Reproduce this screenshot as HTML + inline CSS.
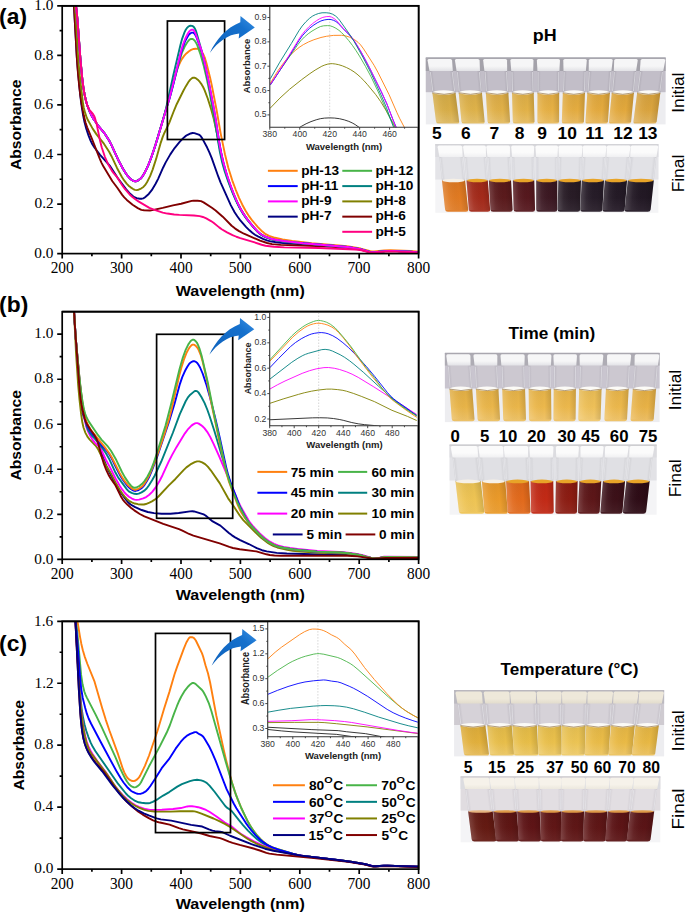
<!DOCTYPE html><html><head><meta charset="utf-8"><style>html,body{margin:0;padding:0;background:#fff;width:685px;height:912px;overflow:hidden}svg{display:block}</style></head><body>
<svg width="685" height="912" viewBox="0 0 685 912">
<defs><linearGradient id="arrg" x1="0" y1="1" x2="1" y2="0"><stop offset="0" stop-color="#0F62BC"/><stop offset="0.7" stop-color="#1570CC"/><stop offset="1" stop-color="#3B92E6"/></linearGradient></defs>
<rect width="685" height="912" fill="#fff"/>
<clipPath id="cpa"><rect x="62.2" y="5.8" width="356.4" height="247.8"/></clipPath>
<g clip-path="url(#cpa)" fill="none" stroke-width="1.9" stroke-linejoin="round" stroke-linecap="round">
<path stroke="#000080" d="M72 -4.11 L73.19 0.23 L74.08 7.94 L76.9 58.1 L77.94 71.12 L80.17 94.57 L81.36 104.36 L82.99 114.7 L84.48 122.11 L86.26 128.79 L88.48 135.37 L90.56 140.64 L92.35 144.22 L94.57 147.76 L100.07 154.82 L110.17 166.15 L117.89 178.23 L126.2 189.42 L129.32 192.95 L133.33 196.47 L134.97 197.5 L136.75 198.16 L139.72 198.7 L141.94 198.71 L143.28 198.32 L144.77 197.46 L148.78 193.95 L151.75 190.14 L155.61 183.73 L158.13 178.85 L163.18 167.47 L165.7 162.36 L170.31 154.36 L174.61 148.05 L179.66 141.96 L183.23 138.16 L185.45 136.17 L187.68 134.79 L190.65 133.48 L192.58 133.03 L194.37 133.11 L198.82 134.63 L199.71 135.15 L200.6 135.96 L202.09 138.15 L207.14 147.54 L209.36 152.31 L211.74 158.18 L218.42 176.95 L220.65 182.59 L230.75 205.13 L234.61 212.19 L237.28 216.31 L240.1 220.18 L246.19 227.1 L249.46 230.33 L252.28 232.77 L254.95 234.7 L257.92 236.41 L262.97 238.86 L267.58 240.57 L271.59 241.56 L278.27 242.66 L288.07 243.64 L302.62 244.18 L314.8 244.98 L332.92 245.77 L344.2 246.64 L350.74 247.47 L359.5 249.05 L362.62 249.77 L369.74 251.85 L371.97 252.27 L374.5 252.25 L385.34 251.09 L390.39 250.88 L410.43 251.66 L418.6 252.36"/>
<path stroke="#800000" d="M72 -4.11 L73.19 0.23 L74.08 7.93 L76.9 58.62 L77.94 72.77 L79.13 85.41 L80.47 96.16 L82.1 106.62 L83.88 115.85 L85.51 122.47 L87.15 127.29 L91.75 138.41 L99.92 159.1 L101.55 162.84 L103.19 165.95 L112.39 181.26 L117.29 187.76 L122.19 194.87 L124.27 197.35 L126.8 199.93 L132.59 204.79 L137.79 208.1 L141.35 209.84 L144.02 210.3 L149.96 210.44 L152.34 210.11 L162.73 207.83 L172.98 205.33 L181.15 203.78 L191.69 200.87 L193.47 200.71 L197.63 200.75 L201.05 201.09 L203.57 202.33 L211.89 207.77 L215.6 210.49 L222.73 216.68 L231.64 225.78 L235.2 228.59 L239.06 231.16 L243.96 233.74 L260 240.65 L267.13 243 L272.03 244.16 L280.64 244.85 L316.43 246.02 L345.69 247.57 L351.48 248.21 L358.46 249.33 L362.02 250.11 L369 252.03 L372.27 252.55 L374.5 252.5 L384.89 251.37 L390.24 251.13 L410.43 251.91 L418.6 252.61"/>
<path stroke="#808000" d="M72.59 -4.11 L73.49 -1.58 L74.08 0.95 L75.27 10.39 L76.16 22.85 L78.09 56.59 L79.43 72.51 L82.84 102.3 L83.73 107.51 L85.07 112.67 L86.41 116.64 L87.74 119.81 L92.64 128.65 L96.5 134.39 L104.08 143.93 L109.27 151.98 L111.5 156.21 L117 167.97 L121.75 176.8 L123.98 180.16 L126.65 183.62 L128.58 185.67 L130.66 187.36 L133.18 189.06 L134.97 189.85 L136.6 190.07 L138.53 189.72 L141.05 188.57 L143.43 186.94 L145.06 185.16 L146.99 182.2 L150.11 176.15 L152.64 169.62 L156.2 158.64 L160.8 142.61 L162.73 136.83 L164.37 132.97 L169.27 122.81 L174.32 109.77 L176.69 104.23 L183.38 90.75 L185.9 86.13 L188.43 82.03 L190.06 79.85 L191.69 78.34 L193.03 77.68 L194.37 77.69 L196.15 78.45 L197.78 79.68 L199.86 81.93 L201.64 84.42 L203.13 87.02 L204.46 89.87 L207.73 98.5 L211.29 109.64 L213.67 118.5 L217.38 135.16 L221.99 157.81 L224.21 166.86 L228.22 179.68 L231.19 187.8 L234.01 194.85 L236.69 200.9 L239.36 206.3 L242.18 211.35 L245.3 216.3 L248.86 221.27 L254.06 227.67 L257.33 231.29 L260.15 233.84 L263.57 235.97 L268.47 238.1 L273.07 239.49 L278.71 240.61 L285.69 241.59 L295.49 242.64 L347.47 247 L360.39 249.23 L369.6 251.81 L371.82 252.25 L374.2 252.28 L384 251.19 L390.39 250.88 L410.43 251.66 L418.6 252.36"/>
<path stroke="#FF8010" d="M72.59 -4.11 L73.93 -1.61 L74.82 0.81 L75.56 3.77 L76.31 8.26 L77.5 20.16 L80.47 59.92 L82.25 78.59 L83.29 86.81 L84.48 93.96 L85.81 100.14 L87.3 105.4 L90.12 112.59 L91.75 115.92 L93.53 119.02 L98.14 125.56 L104.97 133.95 L109.13 140.53 L111.5 145.15 L117.89 159.19 L122.94 168.73 L125.76 173.25 L127.69 175.98 L129.47 177.97 L131.85 179.98 L133.93 181.16 L135.71 181.32 L137.94 180.5 L140.61 178.6 L142.24 176.7 L144.02 173.81 L146.7 168.61 L148.78 163.96 L151.15 157.74 L154.27 148.75 L159.76 130.88 L168.38 101.01 L172.68 83.65 L174.91 75.81 L177.44 68.46 L180.26 62.03 L182.04 58.84 L184.12 55.92 L186.35 53.47 L189.02 51.21 L191.1 49.92 L193.62 48.98 L195.7 48.69 L198.08 48.83 L199.27 49.35 L200.45 50.31 L201.79 51.85 L202.98 53.66 L204.91 57.9 L206.54 63.44 L210.11 77.68 L211.74 85.08 L216.64 110.26 L220.65 133.34 L224.96 154.16 L228.37 167.96 L232.23 180.31 L235.65 189.52 L239.06 197.8 L242.18 204.46 L245.45 210.47 L249.01 216.14 L252.58 220.99 L257.92 227.1 L262.08 231.31 L265.65 234.15 L269.06 235.89 L275 237.79 L282.57 239.42 L292.23 240.91 L311.68 243.22 L323.41 244.32 L341.68 245.67 L348.51 246.39 L360.69 248.56 L369.45 251.03 L371.67 251.49 L374.2 251.53 L384 250.45 L390.39 250.14 L410.43 250.91 L418.6 251.62"/>
<path stroke="#48B448" d="M72.59 -4.11 L73.93 -1.61 L74.82 0.81 L75.56 3.77 L76.31 8.26 L77.5 20.16 L80.47 59.92 L82.25 78.59 L83.29 86.81 L84.48 93.96 L85.81 100.14 L87.3 105.4 L90.12 112.59 L91.75 115.92 L93.53 119.02 L98.14 125.56 L104.97 133.95 L109.13 140.53 L111.5 145.15 L117.89 159.19 L122.94 168.73 L125.76 173.25 L127.69 175.98 L129.47 177.97 L131.85 179.98 L133.93 181.16 L135.71 181.32 L137.94 180.5 L140.46 178.74 L141.94 177.1 L143.58 174.6 L145.95 170.12 L148.18 165.37 L150.41 159.76 L153.23 151.83 L157.98 136.86 L164.81 113.41 L170.01 96.39 L179.66 60.35 L181.89 52.99 L184.56 46.78 L186.2 43.91 L187.98 41.27 L189.02 40.05 L190.06 39.27 L191.25 38.91 L192.43 38.94 L193.62 39.55 L194.81 40.83 L196.15 42.93 L197.34 45.42 L200.6 54.65 L203.72 65.87 L206.69 78.57 L209.51 92.12 L216.34 130.58 L221.39 156.33 L223.77 166.32 L227.04 176.94 L230.6 186.83 L234.01 195.42 L237.28 202.71 L240.4 208.71 L243.96 214.56 L247.83 219.99 L254.06 227.56 L258.07 231.83 L260.15 233.61 L262.23 235 L265.35 236.58 L268.76 237.96 L275 239.68 L284.06 241.12 L303.66 243.25 L347.77 247.04 L360.39 249.23 L369.74 251.85 L372.12 252.28 L374.5 252.25 L385.19 251.1 L390.24 250.88 L410.43 251.66 L418.6 252.36"/>
<path stroke="#0000FF" d="M72.59 -4.11 L73.93 -1.61 L74.82 0.81 L75.56 3.77 L76.31 8.26 L77.5 20.16 L80.47 59.92 L82.25 78.59 L83.29 86.81 L84.48 93.96 L85.81 100.14 L87.3 105.4 L90.12 112.59 L91.75 115.92 L93.53 119.02 L98.14 125.56 L104.97 133.95 L109.13 140.53 L111.5 145.15 L117.89 159.19 L122.94 168.73 L125.76 173.25 L127.69 175.98 L129.47 177.97 L131.85 179.98 L133.93 181.16 L135.71 181.32 L137.94 180.5 L140.61 178.6 L142.24 176.7 L143.88 174.08 L146.55 168.92 L148.63 164.32 L151.75 156.08 L155.46 145.09 L164.81 113.41 L169.57 98.39 L172.83 86.14 L180.55 54.57 L182.63 47.41 L185.31 40.71 L188.13 35.74 L189.32 34.25 L190.5 33.24 L191.84 32.62 L193.03 32.62 L193.92 33.09 L194.81 34 L196.44 37.07 L201.34 50.31 L204.02 60.17 L208.03 78.7 L213.67 107.9 L215.75 119.78 L219.16 141.64 L221.24 152.89 L224.07 165.34 L227.48 177.1 L230.9 187 L234.16 195.58 L237.28 202.82 L240.25 208.69 L243.67 214.39 L247.38 219.67 L253.47 227.12 L257.63 231.65 L259.85 233.63 L261.93 235.07 L264.9 236.62 L268.17 237.99 L274.41 239.8 L283.76 241.35 L297.42 242.82 L347.47 247 L360.39 249.23 L369.74 251.85 L372.12 252.28 L374.5 252.25 L385.19 251.1 L390.24 250.88 L410.43 251.66 L418.6 252.36"/>
<path stroke="#008080" d="M72.59 -4.11 L73.93 -1.61 L74.82 0.81 L75.56 3.77 L76.31 8.26 L77.5 20.16 L80.47 59.92 L82.25 78.59 L83.29 86.81 L84.48 93.96 L85.81 100.14 L87.3 105.4 L90.12 112.59 L91.75 115.92 L93.53 119.02 L98.14 125.56 L104.97 133.95 L109.13 140.53 L111.5 145.15 L117.89 159.19 L122.94 168.73 L125.76 173.25 L127.69 175.98 L129.47 177.97 L131.85 179.98 L133.93 181.16 L134.82 181.35 L135.86 181.3 L138.23 180.33 L140.91 178.31 L142.69 176.05 L144.62 172.72 L147.44 167.04 L149.52 162.1 L152.64 153.54 L155.61 144.62 L164.37 115.16 L166.3 107.22 L173.13 75.85 L180.55 44.58 L182.19 38.62 L184.56 32.17 L185.75 29.77 L186.79 28.2 L188.13 26.81 L189.32 26.03 L190.5 25.73 L191.99 25.87 L193.18 26.45 L194.22 27.53 L195.26 29.26 L196.15 31.41 L200.45 46.56 L203.13 57.49 L208.03 80.71 L212.93 107.66 L215.01 119.9 L218.12 141.62 L219.91 152.01 L222.13 162.29 L224.66 171.23 L228.07 181.12 L232.38 192.37 L235.95 200.69 L239.36 207.58 L242.92 213.6 L246.79 219.16 L252.87 226.65 L257.33 231.59 L259.71 233.75 L261.78 235.23 L264.75 236.8 L268.02 238.18 L271.14 239.22 L274.41 240.05 L283.76 241.61 L294.6 242.75 L347.17 246.97 L360.24 249.2 L369.74 251.85 L372.12 252.28 L374.5 252.25 L385.19 251.1 L390.24 250.88 L410.43 251.66 L418.6 252.36"/>
<path stroke="#FF00FF" d="M72.59 -4.11 L73.93 -1.61 L74.82 0.81 L75.56 3.77 L76.31 8.26 L77.5 20.16 L80.47 59.92 L82.25 78.59 L83.29 86.81 L84.48 93.96 L85.81 100.14 L87.3 105.4 L90.12 112.59 L91.75 115.92 L93.53 119.02 L98.14 125.56 L104.97 133.95 L109.13 140.53 L111.5 145.15 L117.89 159.19 L122.94 168.73 L125.76 173.25 L127.69 175.98 L129.47 177.97 L131.85 179.98 L133.93 181.16 L134.82 181.35 L135.86 181.3 L138.23 180.33 L140.76 178.46 L142.39 176.49 L144.17 173.54 L146.99 167.99 L149.07 163.23 L152.34 154.39 L155.75 144.15 L169.27 98.91 L174.76 77.41 L180.85 51.93 L182.78 45.16 L185.31 38.49 L188.13 33.04 L189.32 31.38 L190.36 30.39 L191.54 29.75 L192.58 29.66 L193.47 30.16 L194.22 31.07 L195.85 34.45 L201.34 49.84 L203.87 59.22 L208.18 79.19 L213.97 109.23 L215.75 119.65 L218.87 140.46 L220.65 150.34 L223.32 162.34 L226.59 173.7 L230.3 184.55 L234.01 194.48 L237.13 201.9 L240.1 207.93 L243.52 213.76 L247.38 219.37 L253.17 226.53 L257.48 231.26 L259.71 233.27 L261.78 234.74 L264.75 236.3 L268.02 237.69 L271.14 238.73 L274.26 239.52 L283.32 241.03 L303.07 243.2 L347.77 247.04 L360.39 249.23 L369.74 251.85 L372.12 252.28 L374.5 252.25 L385.19 251.1 L390.24 250.88 L410.43 251.66 L418.6 252.36"/>
<path stroke="#FF0080" d="M73.19 -4.11 L74.97 0.81 L76.31 8.14 L77.5 20.26 L80.47 59.92 L82.1 77.24 L83.14 85.77 L84.18 92.36 L85.51 98.92 L86.85 103.94 L87.89 106.9 L88.78 108.77 L89.67 110.08 L92.94 113.85 L94.13 115.93 L95.02 118.14 L96.65 124.08 L100.07 140.69 L101.7 147.27 L104.97 157.04 L108.09 164.21 L111.8 170.62 L113.43 172.84 L117.29 177.38 L122.19 185.24 L124.87 188.97 L129.62 194.48 L132.14 196.81 L134.97 199.08 L138.38 201.39 L149.37 207.91 L153.82 209.72 L162.73 212.63 L167.34 213.56 L174.17 214.5 L179.37 214.91 L193.92 215.45 L199.71 216.15 L202.83 216.96 L206.25 218.45 L211 221.05 L213.52 222.79 L219.16 227.37 L221.69 229.2 L227.04 232.34 L232.53 235.11 L236.39 236.75 L240.25 238.12 L252.13 241.56 L261.64 244.75 L265.5 245.72 L273.96 246.79 L284.36 247.42 L318.81 248.03 L354.89 249.45 L358.31 249.74 L361.43 250.24 L370.34 252.48 L372.57 252.8 L374.64 252.73 L384.59 251.64 L389.94 251.38 L418.6 252.61"/>
</g>
<rect x="62.2" y="5.8" width="356.4" height="247.8" fill="none" stroke="#000" stroke-width="1.7"/>
<path d="M62.2 253.6 V258.4 M121.6 253.6 V258.4 M181 253.6 V258.4 M240.4 253.6 V258.4 M299.8 253.6 V258.4 M359.2 253.6 V258.4 M418.6 253.6 V258.4 M91.9 253.6 V256.2 M151.3 253.6 V256.2 M210.7 253.6 V256.2 M270.1 253.6 V256.2 M329.5 253.6 V256.2 M388.9 253.6 V256.2 M62.2 253.6 H57.2 M62.2 204.04 H57.2 M62.2 154.48 H57.2 M62.2 104.92 H57.2 M62.2 55.36 H57.2 M62.2 5.8 H57.2 M62.2 228.82 H59.6 M62.2 179.26 H59.6 M62.2 129.7 H59.6 M62.2 80.14 H59.6 M62.2 30.58 H59.6" stroke="#000" stroke-width="1.7" fill="none"/>
<text transform="translate(50.65 273.45) scale(0.980 1)" font-family="Liberation Serif, serif" font-size="15.71" fill="#000">200</text>
<text transform="translate(109.93 273.45) scale(0.980 1)" font-family="Liberation Serif, serif" font-size="15.71" fill="#000">300</text>
<text transform="translate(169.57 273.45) scale(0.980 1)" font-family="Liberation Serif, serif" font-size="15.71" fill="#000">400</text>
<text transform="translate(228.73 273.45) scale(0.980 1)" font-family="Liberation Serif, serif" font-size="15.71" fill="#000">500</text>
<text transform="translate(288.25 273.45) scale(0.980 1)" font-family="Liberation Serif, serif" font-size="15.71" fill="#000">600</text>
<text transform="translate(347.41 273.45) scale(0.980 1)" font-family="Liberation Serif, serif" font-size="15.71" fill="#000">700</text>
<text transform="translate(407.05 273.45) scale(0.980 1)" font-family="Liberation Serif, serif" font-size="15.71" fill="#000">800</text>
<text transform="translate(34.36 257.87) scale(1.026 1)" font-family="Liberation Serif, serif" font-size="14.91" fill="#000">0.0</text>
<text transform="translate(34.6 208.31) scale(1.026 1)" font-family="Liberation Serif, serif" font-size="14.91" fill="#000">0.2</text>
<text transform="translate(34.12 158.75) scale(1.026 1)" font-family="Liberation Serif, serif" font-size="14.91" fill="#000">0.4</text>
<text transform="translate(34.12 109.19) scale(1.026 1)" font-family="Liberation Serif, serif" font-size="14.91" fill="#000">0.6</text>
<text transform="translate(34.36 59.63) scale(1.026 1)" font-family="Liberation Serif, serif" font-size="14.91" fill="#000">0.8</text>
<text transform="translate(34.36 10.07) scale(1.026 1)" font-family="Liberation Serif, serif" font-size="14.91" fill="#000">1.0</text>
<clipPath id="cpb"><rect x="62.2" y="311.7" width="356.4" height="247.6"/></clipPath>
<g clip-path="url(#cpb)" fill="none" stroke-width="1.9" stroke-linejoin="round" stroke-linecap="round">
<path stroke="#000080" d="M73.84 308.32 L75.18 330.44 L79.63 390.45 L81.27 405.57 L82.16 410.92 L83.05 414.7 L83.94 417.41 L85.28 420.53 L90.03 429.62 L92.26 433.24 L96.12 438.07 L97.31 440.14 L98.49 443.24 L103.54 458.48 L106.22 465.64 L107.85 469.22 L111.56 476.19 L115.87 484.97 L118.84 489.87 L125.97 499.69 L128.34 502.55 L130.57 504.51 L135.17 507.19 L141.71 510.01 L147.8 511.98 L154.03 513.14 L161.61 513.79 L170.52 513.78 L178.68 512.99 L189.97 511.36 L192.35 511.19 L194.13 511.46 L202.89 514.09 L204.23 514.68 L205.56 515.55 L212.69 521.45 L220.41 525.65 L228.88 533.02 L231.99 535.36 L235.11 537.34 L240.16 540.04 L248.78 544.03 L256.79 548.19 L261.99 550.22 L266.74 551.36 L276.69 552.84 L286.79 553.46 L312.33 554.21 L342.03 554.6 L352.13 555.08 L356.59 555.46 L360.89 556.06 L371.29 558.27 L373.81 558.59 L377.38 558.43 L385.69 557.51 L418.51 557.72"/>
<path stroke="#808000" d="M73.84 308.32 L76.07 353.89 L78.15 384.93 L79.49 399.68 L81.12 414.15 L82.31 422.31 L83.49 427.52 L85.43 432.85 L87.8 437.18 L89.73 439.61 L95.52 445.56 L97.9 448.85 L105.77 465.09 L110.82 473.18 L116.02 483.2 L120.17 490.4 L122.25 493.52 L124.48 496.34 L126.86 498.95 L128.94 500.74 L131.76 502.36 L134.73 503.52 L137.99 504.18 L142 504.56 L143.93 504.48 L145.86 504.02 L149.43 502.62 L151.95 501.38 L155.67 498.94 L158.49 496.48 L168.59 485.65 L175.42 478.98 L183.58 470.08 L186.41 467.37 L190.41 464.45 L194.72 462.16 L197.1 461.33 L199.32 461.37 L202.15 462.36 L205.12 464.09 L207.79 466.65 L210.76 470.28 L219.67 483.09 L228.13 498.33 L233.03 505.31 L239.72 515.53 L243.28 520.05 L255.61 532.59 L261.4 537.96 L268.23 543.17 L270.75 544.69 L273.57 546.05 L277.29 547.47 L281.74 548.68 L287.24 549.85 L292.73 550.71 L300.45 551.47 L316.34 552.61 L339.81 553.19 L346.64 553.64 L357.77 555.11 L362.82 556.17 L369.51 557.9 L373.22 558.55 L378.27 558.35 L384.06 557.42 L385.84 557.29 L418.51 557.72"/>
<path stroke="#FF00FF" d="M73.84 308.32 L75.62 336.49 L79.78 384.54 L81.56 399.87 L83.2 411.62 L84.83 420.78 L86.32 426.89 L88.1 431.58 L90.47 436.31 L92.11 439.1 L94.78 442.57 L99.24 446.82 L101.02 449.23 L105.77 459.52 L110.52 468.35 L115.72 478.72 L119.73 485.75 L121.96 489.16 L124.18 492.03 L126.71 494.84 L128.94 496.77 L131.91 498.56 L134.43 499.62 L136.51 499.93 L139.03 499.66 L143.19 498.41 L146.16 497.04 L148.98 495 L152.25 491.91 L155.52 487.69 L159.68 480.74 L162.5 475.22 L168.44 462.09 L172 455.09 L176.46 447.13 L184.92 433.33 L188.34 428.79 L191.45 425.61 L193.24 424.36 L195.02 423.43 L196.21 423.08 L197.39 423.12 L198.73 423.66 L200.96 425.11 L202.74 426.5 L204.37 428.08 L207.2 431.81 L210.31 437.14 L213.58 443.8 L219.08 456.15 L239.27 503.75 L241.2 507.57 L248.48 520.28 L250.26 522.92 L252.49 525.7 L259.76 533.5 L264.52 537.81 L269.86 541.68 L274.02 543.87 L277.88 545.39 L283.38 546.81 L289.91 548.03 L297.33 549.02 L317.23 551 L339.36 552.01 L347.68 552.76 L355.25 553.8 L360.45 554.74 L363.57 555.47 L370.69 557.59 L373.22 558.08 L375.45 558.13 L379.01 557.83 L384.06 556.78 L385.84 556.61 L418.51 557.05"/>
<path stroke="#008080" d="M73.84 308.32 L75.77 338.35 L78.74 372.78 L80.08 386.18 L81.71 399.92 L83.2 410.21 L84.98 419.44 L86.76 426.53 L88.1 430.09 L90.03 433.38 L91.51 435.25 L94.93 438.91 L101.91 447.44 L105.92 453.29 L109.63 459.81 L115.42 472.59 L118.1 477.33 L126.71 489.07 L128.04 490.64 L129.23 491.67 L131.61 492.92 L134.43 493.81 L136.66 494 L138.74 493.61 L141.56 492.37 L144.68 490.38 L146.61 488.48 L148.83 485.47 L152.25 480.02 L154.63 475.75 L161.16 461.77 L172.89 432.76 L179.72 414.31 L185.66 401.25 L187.74 397.71 L190.27 394.72 L194.28 391.37 L195.32 390.94 L196.35 391 L197.39 391.45 L198.43 392.37 L201.4 396.94 L204.52 402.91 L207.34 409.76 L209.72 416.5 L214.47 431.28 L221.9 456.17 L229.47 480.26 L233.93 492.56 L239.27 505.13 L245.21 516.85 L247.44 520.64 L249.67 523.87 L252.78 527.58 L259.76 534.84 L262.59 537.54 L265.56 539.94 L268.38 541.91 L271.2 543.58 L274.76 545.34 L277.58 546.43 L285.45 548.24 L296.59 549.84 L317.38 551.72 L339.06 552.47 L346.04 552.99 L359.26 554.95 L363.12 555.81 L368.91 557.54 L373.37 558.34 L378.42 558.11 L383.91 557.21 L385.84 557.06 L418.51 557.5"/>
<path stroke="#0000FF" d="M73.84 308.32 L75.77 338.34 L79.78 382.3 L81.42 396.44 L83.05 408.39 L84.53 416.78 L85.87 422.01 L87.8 426.84 L90.62 431.53 L92.55 434 L96.56 438.52 L100.57 443.76 L106.81 450.93 L109.63 454.75 L111.56 458.16 L115.42 466.34 L118.24 471.83 L120.77 476.42 L123 479.99 L127.45 485.91 L129.08 487.55 L131.16 489.21 L133.54 490.62 L135.47 490.94 L137.85 490.32 L140.67 488.74 L142.6 487.19 L144.38 485.06 L146.61 481.6 L148.98 477.26 L151.95 470.41 L157.45 455.92 L169.03 421.65 L174.53 403.8 L179.87 384.1 L182.25 377.14 L185.37 370.18 L187.3 366.67 L188.78 364.41 L190.12 362.97 L191.75 361.83 L193.24 361.24 L194.57 361.24 L195.91 361.86 L197.25 363.05 L198.58 364.87 L200.07 367.5 L202.74 373.75 L206.3 384.33 L210.02 397.42 L215.66 419.8 L219.82 437.92 L226.05 466.62 L227.69 473.3 L230.51 482.26 L235.56 495.22 L239.42 506.34 L241.05 510.15 L243.28 514.39 L245.66 518.28 L248.48 522.31 L253.23 528.02 L259.62 534.69 L262.73 537.67 L266 540.27 L269.27 542.47 L272.98 544.5 L276.4 546.01 L279.22 546.9 L283.52 547.88 L294.07 549.53 L316.94 551.69 L339.06 552.47 L346.04 552.99 L359.26 554.95 L363.12 555.81 L368.91 557.54 L373.37 558.34 L378.42 558.11 L383.91 557.21 L385.84 557.06 L418.51 557.5"/>
<path stroke="#FF8010" d="M73.84 308.32 L75.77 338.33 L79.78 381.59 L81.42 395.2 L83.05 406.59 L84.53 414.66 L86.02 420.29 L88.1 425.36 L90.77 429.8 L105.77 448.45 L109.93 454.1 L111.86 457.5 L119.58 472.86 L123.14 478.9 L125.52 482.2 L127.6 484.71 L129.53 486.61 L132.05 488.67 L134.13 489.74 L135.17 489.86 L136.21 489.73 L139.03 488.58 L142 486.52 L143.93 484.28 L146.46 480.36 L148.69 476.31 L150.91 471.46 L154.92 461.54 L158.93 450.42 L163.68 436.35 L168.44 421.15 L171.41 409.99 L179.28 375.45 L181.36 367.74 L183.88 359.64 L186.41 353.06 L188.78 348.59 L190.27 346.55 L191.6 345.18 L192.64 344.64 L193.68 344.65 L194.87 345.2 L196.21 346.28 L197.25 347.52 L198.29 349.23 L200.66 354.85 L202.74 361.99 L206.6 378.78 L212.54 409.01 L219.52 442.29 L226.65 473.71 L229.02 481.86 L237.79 505.04 L239.72 509.45 L241.5 512.76 L244.91 517.86 L250.26 524.57 L254.72 529.57 L261.4 536.45 L264.52 539.14 L268.38 541.91 L271.79 543.89 L275.65 545.72 L278.48 546.7 L282.48 547.67 L292.73 549.35 L301.49 550.35 L316.49 551.66 L339.21 552.47 L346.19 553.01 L359.26 554.95 L363.12 555.81 L368.91 557.54 L373.37 558.34 L378.42 558.11 L383.91 557.21 L385.84 557.06 L418.51 557.5"/>
<path stroke="#48B448" d="M73.84 308.32 L75.77 338.33 L79.49 378.08 L80.97 390.62 L82.6 402.06 L83.94 409.13 L85.28 413.99 L86.76 417.76 L88.69 421.36 L97.9 434.92 L101.46 439.61 L108 446.72 L110.97 450.81 L116.31 460.08 L121.96 471.99 L124.93 477.37 L128.64 482.88 L131.01 485.58 L132.65 487.08 L134.28 487.78 L135.17 487.78 L136.36 487.49 L139.63 485.83 L142.15 483.8 L144.68 480.73 L147.5 476.48 L149.73 472.32 L151.95 467.34 L153.88 462.22 L156.56 454.19 L165.62 425.16 L171.11 403.95 L179.43 369.43 L182.84 357.59 L185.66 349.8 L188.34 344.35 L189.82 342.16 L191.31 340.48 L192.49 339.74 L193.53 339.72 L194.57 340.22 L195.76 341.26 L196.8 342.59 L197.69 344.17 L199.77 349.46 L201.85 356.61 L207.79 382.43 L215.21 420.03 L219.82 440.78 L224.12 462.01 L226.8 473.08 L229.47 481.83 L233.48 492.76 L237.49 502.56 L240.31 508.65 L243.73 514.92 L247.14 520.38 L250.41 524.8 L253.68 528.5 L260.95 536.02 L264.07 538.79 L267.93 541.62 L271.2 543.58 L275.21 545.53 L278.03 546.57 L281.74 547.5 L292.14 549.27 L301.05 550.31 L316.34 551.65 L339.21 552.47 L346.19 553.01 L359.26 554.95 L363.12 555.81 L368.91 557.54 L373.37 558.34 L378.42 558.11 L383.91 557.21 L385.84 557.06 L418.51 557.5"/>
<path stroke="#800000" d="M73.84 308.32 L75.33 332.54 L79.78 391.49 L80.67 399.33 L81.56 404.97 L83.05 411.85 L84.83 418.73 L86.02 422.08 L87.65 425.34 L90.18 429.27 L94.93 435.83 L96.71 439.19 L98.34 444.02 L101.91 457.46 L103.54 462.79 L106.22 469.86 L109.04 475.83 L110.82 478.79 L115.57 485.58 L120.77 496.14 L123 499.83 L124.93 502.19 L127.3 504.57 L130.87 507.71 L134.28 510.37 L139.78 513.98 L144.38 516.3 L163.24 523.81 L178.98 529.22 L182.4 530.68 L189.08 533.98 L193.38 535.6 L219.67 543.44 L229.32 546.91 L232.89 547.99 L239.72 549.25 L256.35 551.42 L266.45 554.29 L269.71 555.05 L274.47 555.47 L281 555.69 L347.08 555.82 L357.48 556.4 L371.73 558.42 L374.11 558.6 L385.69 557.96 L418.51 557.95"/>
</g>
<rect x="62.2" y="311.7" width="356.4" height="247.6" fill="none" stroke="#000" stroke-width="1.7"/>
<path d="M62.2 559.3 V564.1 M121.6 559.3 V564.1 M181 559.3 V564.1 M240.4 559.3 V564.1 M299.8 559.3 V564.1 M359.2 559.3 V564.1 M418.6 559.3 V564.1 M91.9 559.3 V561.9 M151.3 559.3 V561.9 M210.7 559.3 V561.9 M270.1 559.3 V561.9 M329.5 559.3 V561.9 M388.9 559.3 V561.9 M62.2 559.3 H57.2 M62.2 514.28 H57.2 M62.2 469.26 H57.2 M62.2 424.25 H57.2 M62.2 379.23 H57.2 M62.2 334.21 H57.2 M62.2 536.79 H59.6 M62.2 491.77 H59.6 M62.2 446.75 H59.6 M62.2 401.74 H59.6 M62.2 356.72 H59.6" stroke="#000" stroke-width="1.7" fill="none"/>
<text transform="translate(50.65 579.15) scale(0.980 1)" font-family="Liberation Serif, serif" font-size="15.71" fill="#000">200</text>
<text transform="translate(109.93 579.15) scale(0.980 1)" font-family="Liberation Serif, serif" font-size="15.71" fill="#000">300</text>
<text transform="translate(169.57 579.15) scale(0.980 1)" font-family="Liberation Serif, serif" font-size="15.71" fill="#000">400</text>
<text transform="translate(228.73 579.15) scale(0.980 1)" font-family="Liberation Serif, serif" font-size="15.71" fill="#000">500</text>
<text transform="translate(288.25 579.15) scale(0.980 1)" font-family="Liberation Serif, serif" font-size="15.71" fill="#000">600</text>
<text transform="translate(347.41 579.15) scale(0.980 1)" font-family="Liberation Serif, serif" font-size="15.71" fill="#000">700</text>
<text transform="translate(407.05 579.15) scale(0.980 1)" font-family="Liberation Serif, serif" font-size="15.71" fill="#000">800</text>
<text transform="translate(34.36 563.57) scale(1.026 1)" font-family="Liberation Serif, serif" font-size="14.91" fill="#000">0.0</text>
<text transform="translate(34.6 518.55) scale(1.026 1)" font-family="Liberation Serif, serif" font-size="14.91" fill="#000">0.2</text>
<text transform="translate(34.12 473.53) scale(1.026 1)" font-family="Liberation Serif, serif" font-size="14.91" fill="#000">0.4</text>
<text transform="translate(34.12 428.51) scale(1.026 1)" font-family="Liberation Serif, serif" font-size="14.91" fill="#000">0.6</text>
<text transform="translate(34.36 383.49) scale(1.026 1)" font-family="Liberation Serif, serif" font-size="14.91" fill="#000">0.8</text>
<text transform="translate(34.36 338.48) scale(1.026 1)" font-family="Liberation Serif, serif" font-size="14.91" fill="#000">1.0</text>
<clipPath id="cpc"><rect x="62.2" y="621.3" width="356.4" height="247.8"/></clipPath>
<g clip-path="url(#cpc)" fill="none" stroke-width="1.9" stroke-linejoin="round" stroke-linecap="round">
<path stroke="#FF8010" d="M75.27 612.01 L76.46 616.32 L77.35 620.46 L80.02 636.87 L81.36 643.92 L82.84 650.17 L84.62 656.31 L87.3 663.74 L94.57 681.68 L102.3 708.5 L105.71 719.57 L109.42 730.51 L118.04 754.19 L122.79 768.68 L124.27 772.32 L126.06 775.76 L127.54 777.95 L129.03 779.39 L131.4 780.74 L133.33 781.16 L135.11 780.74 L137.19 779.35 L138.83 777.66 L140.16 775.62 L144.91 765.82 L149.07 755.5 L157.39 731.29 L163.92 709.17 L169.42 691.87 L174.47 674.55 L176.99 667.16 L183.82 648.59 L186.35 642.49 L188.72 638.38 L189.46 637.6 L190.21 637.19 L191.25 637.08 L192.43 637.28 L193.33 637.65 L194.22 638.32 L195.85 640.49 L201.94 653.15 L203.13 656.5 L205.5 665.19 L208.03 673.42 L210.11 682.54 L216.34 715.75 L223.62 749.38 L226.44 761.39 L229.56 773.57 L232.38 783.76 L234.76 791.4 L237.28 798.4 L240.7 806.71 L244.11 814.17 L247.83 821.57 L250.65 826.49 L253.62 830.95 L256.88 835.2 L260 838.65 L262.97 841.42 L266.24 844.02 L268.76 845.68 L271.29 846.92 L274.7 848.17 L293.12 853.81 L299.95 855.49 L305.44 856.28 L349.4 861.54 L365.14 864.22 L371.38 865.9 L373.31 866.23 L387.42 865.7 L418.6 866.62"/>
<path stroke="#48B448" d="M75.27 615.1 L77.35 632.89 L81.06 674.38 L82.54 684.3 L84.33 691.47 L85.37 694.31 L86.85 697.59 L95.76 714.84 L101.7 727.19 L115.21 756.64 L120.26 768.54 L122.64 773.64 L125.02 778.25 L126.95 781.45 L129.03 784.23 L130.81 785.93 L132.14 786.72 L133.63 787.25 L134.82 787.35 L135.86 787.12 L137.19 786.43 L138.68 785.28 L139.87 784.03 L140.91 782.54 L148.78 766.82 L159.91 746.13 L166.74 732.51 L169.86 725.25 L174.02 713.62 L176.99 705.97 L179.22 700.74 L181.3 696.54 L184.86 690.53 L188.43 686.2 L190.21 684.44 L191.54 683.46 L192.73 683.01 L193.92 683.07 L194.96 683.56 L196 684.35 L201.49 689.43 L202.68 690.8 L203.87 692.69 L205.8 696.43 L208.77 703.02 L211.44 711.24 L226 762.86 L231.49 781.39 L236.09 795.18 L241.14 807.73 L247.23 820.44 L249.46 824.51 L251.98 828.58 L254.8 832.57 L257.77 836.25 L260.74 839.38 L263.86 842.17 L268.47 845.51 L273.07 847.61 L294.16 854.12 L301.14 855.69 L349.4 861.54 L365.14 864.22 L371.38 865.9 L373.31 866.23 L387.42 865.7 L418.6 866.62"/>
<path stroke="#008080" d="M75.27 616.65 L79.13 679.19 L80.76 700.48 L81.65 708.62 L82.84 716.35 L84.48 724.13 L86.26 730.68 L88.34 736.82 L90.56 742.31 L92.79 746.8 L95.32 750.95 L118.18 783.96 L125.91 793.52 L128.43 796.11 L130.81 798.05 L135.26 800.93 L138.53 802.28 L141.5 802.79 L145.66 803.19 L148.33 803.24 L150.11 802.97 L152.79 801.9 L157.83 799.05 L163.18 795.56 L169.27 792.08 L177.29 786.65 L181.89 784.19 L189.91 781.17 L193.77 780.1 L197.04 779.78 L201.2 780.33 L203.42 781.08 L205.65 782.24 L207.43 783.6 L209.51 785.64 L214.56 791.76 L225.25 806.01 L226.89 807.63 L230.15 809.76 L232.08 811.51 L238.92 820.21 L243.22 825.27 L247.97 830.55 L252.73 835.29 L257.48 839.53 L261.93 842.76 L266.98 845.79 L272.03 848.09 L280.05 850.74 L299.06 855.34 L305.44 856.27 L349.55 861.56 L365.29 864.25 L372.86 866.18 L375.39 866.27 L383.85 865.75 L387.71 865.71 L418.6 866.62"/>
<path stroke="#FF00FF" d="M75.27 618.2 L78.83 680.01 L80.61 704.24 L81.8 715.71 L83.14 725.41 L84.77 734.21 L86.55 741.25 L88.93 747.51 L90.42 750.46 L92.35 753.71 L97.25 761.02 L105.86 772.29 L114.47 785.42 L118.78 790.76 L123.38 795.79 L127.09 799.23 L131.55 802.68 L135.56 805.32 L138.97 806.97 L145.36 809.04 L149.96 809.86 L161.84 809.73 L172.98 809.01 L180.85 808.05 L187.24 806.45 L189.76 806.11 L191.99 806.19 L194.96 806.6 L198.08 807.21 L200.9 808 L206.1 809.97 L209.81 812.01 L216.49 816.47 L224.81 822.47 L231.34 826.26 L238.02 831.85 L240.7 833.8 L246.19 837.15 L253.91 841.33 L262.53 845.36 L269.95 848.24 L279.31 851.01 L290.15 853.57 L297.13 855.01 L303.07 855.94 L338.71 860.14 L350.44 861.69 L365.29 864.25 L373.16 866.22 L375.54 866.27 L383.85 865.75 L387.56 865.7 L418.6 866.62"/>
<path stroke="#808000" d="M75.27 618.2 L78.83 679.96 L80.91 708 L82.1 719.29 L83.29 727.77 L84.92 736.38 L86.7 743.43 L88.78 749.1 L91.31 753.65 L106.45 773.47 L115.66 786.98 L120.12 792.61 L123.98 797.03 L127.09 800.06 L130.51 802.74 L134.67 805.48 L138.83 807.65 L144.47 809.93 L148.33 810.85 L154.42 811.43 L159.91 811.64 L170.46 811.62 L180.11 811.19 L192.58 811.19 L194.51 811.34 L196.59 811.87 L201.49 813.62 L213.52 818.5 L219.31 821.13 L224.81 823.9 L230.9 827.48 L247.38 838.8 L251.09 840.95 L255.7 843.27 L261.19 845.63 L267.43 847.88 L274.7 850.11 L281.53 851.83 L294.31 854.5 L301.43 855.71 L339.3 860.21 L351.03 861.78 L365.44 864.28 L371.23 865.86 L373.16 866.22 L375.54 866.27 L383.85 865.75 L387.56 865.7 L418.6 866.62"/>
<path stroke="#0000FF" d="M75.27 616.65 L77.35 640.94 L80.17 678.1 L81.21 688.77 L82.69 697.66 L85.22 707.95 L86.85 713.7 L88.63 718.49 L91.01 723.51 L101.26 743.06 L116.25 770.8 L120.71 778.31 L123.53 782.52 L127.84 787.81 L130.96 790.76 L132.89 791.94 L135.56 793.14 L137.49 793.73 L139.27 793.92 L140.91 793.7 L142.69 793.06 L144.91 791.88 L146.55 790.68 L148.33 788.77 L150.56 785.7 L155.31 778.47 L161.7 768.13 L168.97 759.14 L175.65 748.66 L180.85 741.71 L184.56 737.65 L187.53 735.3 L190.21 733.89 L193.62 732.51 L195.11 732.1 L196.15 732.17 L197.19 732.66 L199.41 734.21 L201.79 735.4 L202.98 736.4 L204.61 738.71 L209.07 746.25 L212.04 752.38 L215.6 760.66 L226.59 789.14 L233.72 803.48 L236.39 808.17 L245.6 822.6 L248.72 827.01 L251.83 830.98 L255.7 835.33 L259.41 838.98 L263.12 842.12 L266.68 844.55 L271.59 847.05 L278.42 849.63 L292.52 853.76 L298.17 855.16 L305 856.22 L337.82 860.03 L349.7 861.58 L365.29 864.25 L372.71 866.16 L375.39 866.27 L384 865.74 L387.86 865.71 L418.6 866.62"/>
<path stroke="#800000" d="M75.27 618.2 L78.83 689.3 L80.32 713.12 L81.21 723.35 L82.25 731.88 L83.44 738.57 L84.92 744.09 L86.26 747.64 L87.89 751.09 L89.82 754.4 L92.64 758.65 L95.61 762.52 L103.93 772.06 L113.58 785.77 L118.18 791.78 L123.09 797.75 L127.09 802.05 L132.89 807.34 L138.38 811.68 L142.69 814.58 L148.78 818.15 L153.08 820.29 L156.79 821.71 L159.91 822.55 L169.57 824.61 L178.92 828.21 L182.93 829.42 L201.34 833.53 L209.51 836.01 L220.06 838.15 L222.88 839.11 L228.97 841.65 L232.53 842.85 L239.66 844.91 L252.58 848.26 L259.85 850.49 L266.39 852.83 L269.36 853.6 L276.63 854.6 L313.91 858.02 L348.21 861.71 L364.99 864.5 L371.38 866.21 L373.31 866.54 L387.42 866.01 L418.6 866.93"/>
<path stroke="#000080" d="M75.27 618.2 L78.83 689.3 L80.32 713.11 L81.21 723.34 L82.25 731.85 L83.44 738.55 L84.77 743.73 L86.41 748.3 L88.48 752.74 L91.6 758.03 L94.57 762.26 L102.15 771.29 L112.39 785.12 L119.97 794.33 L123.53 798.26 L127.09 801.78 L131.1 805.45 L134.37 808.06 L138.53 810.68 L143.73 813.33 L149.37 815.71 L156.65 818.33 L160.8 819.32 L171.2 820.66 L191.1 824.9 L202.24 826.53 L208.92 829.37 L212.48 830.62 L215.01 831.15 L220.06 831.66 L222.28 832.21 L230.15 835.75 L251.39 844.2 L265.05 848.71 L273.37 850.79 L300.99 855.64 L339.45 860.23 L350.74 861.74 L365.44 864.28 L371.23 865.86 L373.16 866.22 L375.54 866.27 L383.85 865.75 L387.56 865.7 L418.6 866.62"/>
</g>
<rect x="62.2" y="621.3" width="356.4" height="247.8" fill="none" stroke="#000" stroke-width="1.7"/>
<path d="M62.2 869.1 V873.9 M121.6 869.1 V873.9 M181 869.1 V873.9 M240.4 869.1 V873.9 M299.8 869.1 V873.9 M359.2 869.1 V873.9 M418.6 869.1 V873.9 M91.9 869.1 V871.7 M151.3 869.1 V871.7 M210.7 869.1 V871.7 M270.1 869.1 V871.7 M329.5 869.1 V871.7 M388.9 869.1 V871.7 M62.2 869.1 H57.2 M62.2 807.15 H57.2 M62.2 745.2 H57.2 M62.2 683.25 H57.2 M62.2 621.3 H57.2 M62.2 838.12 H59.6 M62.2 776.17 H59.6 M62.2 714.23 H59.6 M62.2 652.27 H59.6" stroke="#000" stroke-width="1.7" fill="none"/>
<text transform="translate(50.65 888.95) scale(0.980 1)" font-family="Liberation Serif, serif" font-size="15.71" fill="#000">200</text>
<text transform="translate(109.93 888.95) scale(0.980 1)" font-family="Liberation Serif, serif" font-size="15.71" fill="#000">300</text>
<text transform="translate(169.57 888.95) scale(0.980 1)" font-family="Liberation Serif, serif" font-size="15.71" fill="#000">400</text>
<text transform="translate(228.73 888.95) scale(0.980 1)" font-family="Liberation Serif, serif" font-size="15.71" fill="#000">500</text>
<text transform="translate(288.25 888.95) scale(0.980 1)" font-family="Liberation Serif, serif" font-size="15.71" fill="#000">600</text>
<text transform="translate(347.41 888.95) scale(0.980 1)" font-family="Liberation Serif, serif" font-size="15.71" fill="#000">700</text>
<text transform="translate(407.05 888.95) scale(0.980 1)" font-family="Liberation Serif, serif" font-size="15.71" fill="#000">800</text>
<text transform="translate(34.36 873.37) scale(1.026 1)" font-family="Liberation Serif, serif" font-size="14.91" fill="#000">0.0</text>
<text transform="translate(34.12 811.42) scale(1.026 1)" font-family="Liberation Serif, serif" font-size="14.91" fill="#000">0.4</text>
<text transform="translate(34.36 749.47) scale(1.026 1)" font-family="Liberation Serif, serif" font-size="14.91" fill="#000">0.8</text>
<text transform="translate(34.6 687.52) scale(1.026 1)" font-family="Liberation Serif, serif" font-size="14.91" fill="#000">1.2</text>
<text transform="translate(34.12 625.57) scale(1.026 1)" font-family="Liberation Serif, serif" font-size="14.91" fill="#000">1.6</text>
<g fill="none" stroke="#000" stroke-width="1.7">
<rect x="167.4" y="21" width="57.2" height="118.5"/>
<rect x="156.6" y="334.3" width="76.1" height="184"/>
<rect x="155.5" y="633.4" width="75" height="199.2"/>
</g>
<rect x="269.8" y="6.6" width="148" height="120.7" fill="#fff"/>
<clipPath id="cia"><rect x="269.8" y="6.6" width="148" height="120.7"/></clipPath>
<line x1="329.7" y1="6.6" x2="329.7" y2="127.3" stroke="#c4c4c4" stroke-width="0.7" stroke-dasharray="1.5 1.5"/>
<g clip-path="url(#cia)" fill="none" stroke-width="0.9" stroke-linejoin="round">
<path stroke="#222222" d="M293.76 131.95 L297.88 128.69 L301.62 126.2 L306.11 123.75 L310.98 121.62 L316.22 119.79 L320.34 118.69 L324.46 118.12 L329.7 117.86 L334.57 118.07 L339.43 118.7 L344.3 119.87 L348.79 121.37 L352.16 122.88 L355.16 124.57 L365.64 131.95"/>
<path stroke="#808000" d="M269.8 108.57 L279.91 98.1 L289.64 89.22 L301.62 79.69 L309.86 73.63 L315.1 70.11 L321.84 66.21 L324.83 64.99 L327.83 64.1 L330.07 63.72 L332.32 63.67 L335.32 64 L338.69 64.69 L342.43 65.86 L346.55 67.58 L350.29 69.49 L354.03 71.83 L357.03 74.11 L360.4 77.11 L363.77 80.48 L367.51 84.66 L375.75 94.67 L380.62 101.48 L385.86 110.2 L395.96 128.38 L400.08 135 L404.58 141.69"/>
<path stroke="#FF8010" d="M270.4 83.25 L274.52 76.16 L278.26 70.28 L282.38 64.53 L286.87 58.91 L290.62 54.84 L295.11 50.65 L299.23 47.36 L303.34 44.65 L308.59 41.92 L313.83 39.76 L320.94 37.48 L326.56 36.25 L333.67 35.39 L341.53 35.31 L345.27 35.77 L349.39 37.08 L352.76 38.68 L355.76 40.54 L358.38 42.61 L360.62 44.9 L363.62 48.94 L374.1 65.33 L377.84 72.15 L389.08 94.63 L396.94 112.65 L399.56 118.21 L410.42 138.97"/>
<path stroke="#48B448" d="M270.4 84.46 L280.88 68.95 L297.73 44.81 L301.1 40.46 L304.47 36.95 L308.21 33.78 L311.95 31.14 L317.2 28.06 L320.57 26.51 L323.56 25.82 L327.68 25.61 L330.3 25.89 L332.92 26.74 L335.91 28.27 L338.91 30.29 L341.53 32.59 L344.9 36.11 L348.64 40.46 L352.39 45.35 L355.76 50.19 L359.5 56.1 L365.49 66.36 L371.11 76.9 L377.84 91.04 L387.2 112.25 L390.2 118.64 L395.44 128.66 L401.43 139.01"/>
<path stroke="#0000FF" d="M270.4 84.95 L290.24 54.52 L299.23 40.11 L302.6 35.48 L305.96 31.71 L309.71 28.17 L313.08 25.51 L317.2 22.83 L320.94 20.96 L324.31 19.93 L328.05 19.38 L331.05 19.56 L333.67 20.37 L335.91 21.52 L338.16 23.27 L343.4 28.94 L350.52 36.2 L354.63 41.61 L360.25 50.69 L364.37 58.08 L369.61 68.12 L381.21 91.59 L386.83 103.84 L393.19 120.16 L395.81 126.32 L399.18 132.92 L402.93 139.04"/>
<path stroke="#FF00FF" d="M270.4 84.46 L285.75 60.79 L299.6 38.07 L302.6 33.81 L305.59 30.23 L308.96 26.76 L312.33 23.77 L316.45 20.72 L319.82 18.66 L322.81 17.42 L326.18 16.65 L329.18 16.51 L331.42 17.04 L334.04 18.51 L336.66 20.69 L343.4 28.48 L350.52 35.73 L354.26 40.65 L359.13 48.5 L363.62 56.46 L368.86 66.42 L381.59 92.09 L386.83 103.66 L393.19 120.68 L395.44 126.08 L398.81 132.68 L402.93 139.07"/>
<path stroke="#008080" d="M270.4 78.62 L279.76 62.22 L291.36 43.49 L298.85 30.83 L302.22 25.98 L305.96 21.7 L309.33 18.48 L312.33 16.23 L315.32 14.66 L318.69 13.45 L322.06 12.79 L326.18 12.74 L329.55 13.14 L332.55 14.16 L335.54 15.97 L338.16 18.43 L340.03 20.81 L347.89 31.88 L351.26 36.87 L354.26 41.73 L363.24 57.85 L370.73 72.54 L381.96 97.01 L386.46 107.64 L391.7 122.42 L393.57 127.18 L396.56 133.44 L399.93 139.06"/>
</g>
<path d="M269.8 6.6 V127.3 H417.8" stroke="#333" stroke-width="1.1" fill="none"/>
<path d="M269.8 127.3 V129.7 M284.78 127.3 V128.7 M299.75 127.3 V129.7 M314.73 127.3 V128.7 M329.7 127.3 V129.7 M344.68 127.3 V128.7 M359.65 127.3 V129.7 M374.62 127.3 V128.7 M389.6 127.3 V129.7 M404.58 127.3 V128.7 M269.8 114.9 H267.4 M269.8 90.55 H267.4 M269.8 102.72 H268.4 M269.8 66.2 H267.4 M269.8 78.38 H268.4 M269.8 41.85 H267.4 M269.8 54.03 H268.4 M269.8 17.5 H267.4 M269.8 29.68 H268.4" stroke="#333" stroke-width="0.9" fill="none"/>
<text transform="translate(262.53 137.47) scale(1.007 1)" font-family="Liberation Sans, sans-serif" font-size="8.63" fill="#333">380</text>
<text transform="translate(292.55 137.47) scale(1.007 1)" font-family="Liberation Sans, sans-serif" font-size="8.63" fill="#333">400</text>
<text transform="translate(322.5 137.47) scale(1.007 1)" font-family="Liberation Sans, sans-serif" font-size="8.63" fill="#333">420</text>
<text transform="translate(352.45 137.47) scale(1.007 1)" font-family="Liberation Sans, sans-serif" font-size="8.63" fill="#333">440</text>
<text transform="translate(382.4 137.47) scale(1.007 1)" font-family="Liberation Sans, sans-serif" font-size="8.63" fill="#333">460</text>
<text transform="translate(254.48 117.47) scale(1.007 1)" font-family="Liberation Sans, sans-serif" font-size="8.63" fill="#333">0.5</text>
<text transform="translate(254.48 93.12) scale(1.007 1)" font-family="Liberation Sans, sans-serif" font-size="8.63" fill="#333">0.6</text>
<text transform="translate(254.48 68.77) scale(1.007 1)" font-family="Liberation Sans, sans-serif" font-size="8.63" fill="#333">0.7</text>
<text transform="translate(254.48 44.42) scale(1.007 1)" font-family="Liberation Sans, sans-serif" font-size="8.63" fill="#333">0.8</text>
<text transform="translate(254.48 20.07) scale(1.007 1)" font-family="Liberation Sans, sans-serif" font-size="8.63" fill="#333">0.9</text>
<text transform="translate(305.9 149.65) scale(1.123 1)" font-family="Liberation Sans, sans-serif" font-weight="bold" font-size="8.50" fill="#222">Wavelength (nm)</text>
<text transform="translate(250.15 93.35) rotate(-90)" font-family="Liberation Sans, sans-serif" font-weight="bold" font-size="9.47" fill="#222">Absorbance</text>
<rect x="269.7" y="312.5" width="148.1" height="113.3" fill="#fff"/>
<clipPath id="cib"><rect x="269.7" y="312.5" width="148.1" height="113.3"/></clipPath>
<line x1="318.7" y1="312.5" x2="318.7" y2="425.8" stroke="#c4c4c4" stroke-width="0.7" stroke-dasharray="1.5 1.5"/>
<g clip-path="url(#cib)" fill="none" stroke-width="0.9" stroke-linejoin="round">
<path stroke="#222222" d="M269.7 419.76 L312.57 417.83 L319.62 417.74 L327.27 417.93 L333.4 418.53 L339.22 419.45 L343.2 420.3 L351.77 422.54 L358.21 423.82 L364.64 424.67 L374.44 425.56 L379.95 426.37"/>
<path stroke="#808000" d="M269.7 403.38 L283.18 398.95 L298.49 394.37 L304.31 392.78 L311.35 391.21 L318.09 390.07 L326.66 389.14 L331.56 389.1 L337.69 389.61 L342.89 390.34 L346.57 391.23 L353.31 393.37 L361.27 396.33 L374.44 401.61 L391.89 410.27 L407.51 416.42 L416.7 420.52"/>
<path stroke="#FF00FF" d="M269.7 389.15 L277.66 384.68 L285.01 381.01 L302.16 373.37 L309.51 370.7 L316.25 368.85 L323.91 367.64 L328.5 367.53 L334.32 368.25 L339.52 369.47 L346.26 371.69 L352.08 374.18 L358.21 377.39 L373.82 386.89 L416.7 414.43"/>
<path stroke="#008080" d="M269.7 379.25 L291.75 362.29 L297.88 358.26 L302.77 355.51 L305.53 354.3 L308.59 353.24 L321.76 349.65 L325.13 349.37 L329.11 349.88 L332.48 351.07 L340.14 354.7 L344.73 357.4 L349.63 360.83 L353.92 364.23 L363.72 372.59 L378.73 386.38 L388.52 395.06 L394.96 400.46 L399.86 404.25 L405.06 407.93 L410.88 411.71 L416.7 415.19"/>
<path stroke="#0000FF" d="M269.7 367.82 L278.58 358.48 L290.52 346.59 L295.43 342.57 L301.24 338.78 L305.23 336.65 L309.21 334.81 L311.66 333.95 L314.72 333.25 L318.7 332.68 L321.76 332.6 L325.13 333.01 L328.19 333.79 L332.79 335.78 L337.07 338.3 L342.89 342.7 L348.41 347.5 L355.14 354.21 L366.48 366.6 L374.74 376.51 L387.3 392.36 L390.67 396.1 L393.43 398.63 L396.79 401.32 L407.82 408.99 L416.7 415.95"/>
<path stroke="#FF8010" d="M269.7 361.34 L281.64 348.97 L292.67 337.17 L298.79 331.81 L304.31 327.86 L307.37 326.11 L310.12 324.87 L313.49 323.85 L316.56 323.29 L319.01 323.21 L321.46 323.48 L324.82 324.21 L327.89 325.17 L331.87 327.09 L335.54 329.64 L338.61 332.58 L343.2 337.75 L349.02 345.08 L359.12 359.46 L372.29 376.69 L389.44 397.26 L391.89 399.57 L394.65 401.73 L406.9 410.7 L416.7 417.35"/>
<path stroke="#48B448" d="M269.7 359.94 L291.75 335.91 L296.96 331.2 L302.77 326.82 L305.84 324.92 L308.9 323.37 L313.49 321.47 L316.25 320.66 L318.39 320.43 L320.54 320.59 L323.29 321.18 L326.36 322.15 L330.34 324.2 L334.93 327.71 L337.99 330.86 L344.43 338.42 L351.16 346.84 L365.56 366.89 L374.13 377.34 L382.71 389.13 L388.22 395.48 L393.12 399.95 L401.39 406.12 L408.74 411.11 L416.7 415.95"/>
</g>
<path d="M269.7 312.5 V425.8 H417.8" stroke="#333" stroke-width="1.1" fill="none"/>
<path d="M269.7 425.8 V428.2 M281.95 425.8 V427.2 M294.2 425.8 V428.2 M306.45 425.8 V427.2 M318.7 425.8 V428.2 M330.95 425.8 V427.2 M343.2 425.8 V428.2 M355.45 425.8 V427.2 M367.7 425.8 V428.2 M379.95 425.8 V427.2 M392.2 425.8 V428.2 M404.45 425.8 V427.2 M269.7 419 H267.3 M269.7 393.6 H267.3 M269.7 406.3 H268.3 M269.7 368.2 H267.3 M269.7 380.9 H268.3 M269.7 342.8 H267.3 M269.7 355.5 H268.3 M269.7 317.4 H267.3 M269.7 330.1 H268.3" stroke="#333" stroke-width="0.9" fill="none"/>
<text transform="translate(262.43 435.97) scale(1.007 1)" font-family="Liberation Sans, sans-serif" font-size="8.63" fill="#333">380</text>
<text transform="translate(287 435.97) scale(1.007 1)" font-family="Liberation Sans, sans-serif" font-size="8.63" fill="#333">400</text>
<text transform="translate(311.5 435.97) scale(1.007 1)" font-family="Liberation Sans, sans-serif" font-size="8.63" fill="#333">420</text>
<text transform="translate(336 435.97) scale(1.007 1)" font-family="Liberation Sans, sans-serif" font-size="8.63" fill="#333">440</text>
<text transform="translate(360.5 435.97) scale(1.007 1)" font-family="Liberation Sans, sans-serif" font-size="8.63" fill="#333">460</text>
<text transform="translate(385 435.97) scale(1.007 1)" font-family="Liberation Sans, sans-serif" font-size="8.63" fill="#333">480</text>
<text transform="translate(254.38 421.57) scale(1.007 1)" font-family="Liberation Sans, sans-serif" font-size="8.63" fill="#333">0.2</text>
<text transform="translate(254.25 396.17) scale(1.007 1)" font-family="Liberation Sans, sans-serif" font-size="8.63" fill="#333">0.4</text>
<text transform="translate(254.38 370.77) scale(1.007 1)" font-family="Liberation Sans, sans-serif" font-size="8.63" fill="#333">0.6</text>
<text transform="translate(254.38 345.37) scale(1.007 1)" font-family="Liberation Sans, sans-serif" font-size="8.63" fill="#333">0.8</text>
<text transform="translate(254.25 319.97) scale(1.007 1)" font-family="Liberation Sans, sans-serif" font-size="8.63" fill="#333">1.0</text>
<text transform="translate(306.3 448.15) scale(1.123 1)" font-family="Liberation Sans, sans-serif" font-weight="bold" font-size="8.50" fill="#222">Wavelength (nm)</text>
<text transform="translate(250.57 394.34) rotate(-90) scale(1.050 1)" font-family="Liberation Sans, sans-serif" font-weight="bold" font-size="8.53" fill="#222">Absorbance</text>
<rect x="267.7" y="622.1" width="150.1" height="114.7" fill="#fff"/>
<clipPath id="cic"><rect x="267.7" y="622.1" width="150.1" height="114.7"/></clipPath>
<line x1="317.9" y1="622.1" x2="317.9" y2="736.8" stroke="#c4c4c4" stroke-width="0.7" stroke-dasharray="1.5 1.5"/>
<g clip-path="url(#cic)" fill="none" stroke-width="0.9" stroke-linejoin="round">
<path stroke="#222222" d="M267.95 729.5 L281.76 730.93 L293.99 731.94 L336.66 734.38 L351.72 736.53 L361.76 737.62"/>
<path stroke="#222222" d="M267.95 727.25 L311.88 729.61 L338.23 730.63 L346.7 731.75 L365.53 733.66 L386.86 737.62"/>
<path stroke="#808000" d="M267.95 722.61 L294.31 722.36 L318.15 722.36 L324.11 722.6 L336.35 723.69 L367.1 726.91 L420.75 733.89"/>
<path stroke="#FF00FF" d="M267.95 721.36 L291.8 720.71 L311.25 719.64 L321.6 719.88 L334.47 720.62 L344.51 721.56 L351.41 722.45 L397.22 730.3 L410.71 732.34 L420.75 733.56"/>
<path stroke="#008080" d="M267.95 712.15 L278.93 710.19 L290.54 708.4 L313.13 706.14 L320.66 705.66 L325.99 705.52 L334.15 705.75 L339.8 706.18 L346.7 707.16 L353.6 708.82 L364.27 712.13 L378.7 717.09 L400.04 723.56 L408.2 725.7 L420.75 728.49"/>
<path stroke="#0000FF" d="M267.95 694.3 L277.36 690.42 L288.03 686.53 L298.07 683.53 L304.97 681.96 L313.44 680.8 L323.48 679.94 L325.99 680.1 L331.64 681.12 L337.6 681.86 L341.05 682.85 L349.21 686.24 L353.29 688.14 L358 690.63 L367.72 696.43 L387.18 709.4 L393.14 712.72 L399.1 715.47 L405.69 718.11 L412.9 720.64 L420.75 723.09"/>
<path stroke="#48B448" d="M267.95 677.21 L277.68 670.28 L288.97 663.2 L292.74 661.24 L297.76 658.97 L301.84 657.37 L305.6 656.18 L313.76 654.11 L316.58 653.71 L319.41 653.63 L323.8 654.23 L337.29 657.4 L340.74 658.66 L346.7 661.63 L350.15 663.53 L353.29 665.65 L358 669.56 L388.43 696.98 L399.1 706 L403.49 709.29 L408.2 712.37 L414.47 716.03 L420.75 719.34"/>
<path stroke="#FF8010" d="M267.95 658.78 L275.17 652.24 L281.44 647.25 L299.64 634.62 L304.66 631.65 L309.37 629.62 L312.5 629.06 L315.95 629.09 L319.09 629.36 L321.29 629.83 L323.8 630.7 L326.62 632.01 L331.33 634.78 L336.35 637.23 L338.23 638.37 L340.11 639.89 L344.82 644.38 L350.78 649.31 L354.86 654.12 L364.59 667.61 L374.31 679.46 L386.86 693.64 L392.2 699.12 L397.84 704.55 L402.24 708.31 L406.94 711.64 L412.9 715.18 L420.75 719.34"/>
</g>
<path d="M267.7 622.1 V736.8 H417.8" stroke="#333" stroke-width="1.1" fill="none"/>
<path d="M267.7 736.8 V739.2 M280.25 736.8 V738.2 M292.8 736.8 V739.2 M305.35 736.8 V738.2 M317.9 736.8 V739.2 M330.45 736.8 V738.2 M343 736.8 V739.2 M355.55 736.8 V738.2 M368.1 736.8 V739.2 M380.65 736.8 V738.2 M393.2 736.8 V739.2 M405.75 736.8 V738.2 M267.7 728.5 H265.3 M267.7 703.6 H265.3 M267.7 716.05 H266.3 M267.7 678.7 H265.3 M267.7 691.15 H266.3 M267.7 653.8 H265.3 M267.7 666.25 H266.3 M267.7 628.9 H265.3 M267.7 641.35 H266.3" stroke="#333" stroke-width="0.9" fill="none"/>
<text transform="translate(260.43 746.97) scale(1.007 1)" font-family="Liberation Sans, sans-serif" font-size="8.63" fill="#333">380</text>
<text transform="translate(285.6 746.97) scale(1.007 1)" font-family="Liberation Sans, sans-serif" font-size="8.63" fill="#333">400</text>
<text transform="translate(310.7 746.97) scale(1.007 1)" font-family="Liberation Sans, sans-serif" font-size="8.63" fill="#333">420</text>
<text transform="translate(335.8 746.97) scale(1.007 1)" font-family="Liberation Sans, sans-serif" font-size="8.63" fill="#333">440</text>
<text transform="translate(360.9 746.97) scale(1.007 1)" font-family="Liberation Sans, sans-serif" font-size="8.63" fill="#333">460</text>
<text transform="translate(386 746.97) scale(1.007 1)" font-family="Liberation Sans, sans-serif" font-size="8.63" fill="#333">480</text>
<text transform="translate(252.38 731.07) scale(1.007 1)" font-family="Liberation Sans, sans-serif" font-size="8.63" fill="#333">0.3</text>
<text transform="translate(252.38 706.17) scale(1.007 1)" font-family="Liberation Sans, sans-serif" font-size="8.63" fill="#333">0.6</text>
<text transform="translate(252.38 681.27) scale(1.007 1)" font-family="Liberation Sans, sans-serif" font-size="8.63" fill="#333">0.9</text>
<text transform="translate(252.38 656.43) scale(1.007 1)" font-family="Liberation Sans, sans-serif" font-size="8.63" fill="#333">1.2</text>
<text transform="translate(252.38 631.47) scale(1.007 1)" font-family="Liberation Sans, sans-serif" font-size="8.63" fill="#333">1.5</text>
<text transform="translate(304.9 759.15) scale(1.123 1)" font-family="Liberation Sans, sans-serif" font-weight="bold" font-size="8.50" fill="#222">Wavelength (nm)</text>
<text transform="translate(249.24 705.04) rotate(-90) scale(0.894 1)" font-family="Liberation Sans, sans-serif" font-weight="bold" font-size="10.27" fill="#222">Absorbance</text>
<path d="M62.2 5.8 H418.6 V253.6" stroke="#000" stroke-width="1.7" fill="none"/>
<path d="M62.2 311.7 H418.6 V559.3" stroke="#000" stroke-width="1.7" fill="none"/>
<path d="M62.2 621.3 H418.6 V869.1" stroke="#000" stroke-width="1.7" fill="none"/>
<path transform="translate(0 0)" d="M209.8 52.9 C216 40 226 28 240.3 22.3 L240.5 16.1 L254.8 27.5 L238.7 38.5 L239.2 33.6 C228 34.5 218 42 209.8 52.9 Z" fill="url(#arrg)"/>
<path transform="translate(-0.5 301.8)" d="M209.8 52.9 C216 40 226 28 240.3 22.3 L240.5 16.1 L254.8 27.5 L238.7 38.5 L239.2 33.6 C228 34.5 218 42 209.8 52.9 Z" fill="url(#arrg)"/>
<path transform="translate(1.8 612.8)" d="M209.8 52.9 C216 40 226 28 240.3 22.3 L240.5 16.1 L254.8 27.5 L238.7 38.5 L239.2 33.6 C228 34.5 218 42 209.8 52.9 Z" fill="url(#arrg)"/>
<text transform="translate(175.7 296.1) scale(1.096 1)" font-family="Liberation Sans, sans-serif" font-weight="bold" font-size="14.69" fill="#000">Wavelength (nm)</text>
<text transform="translate(175.7 599.8) scale(1.096 1)" font-family="Liberation Sans, sans-serif" font-weight="bold" font-size="14.69" fill="#000">Wavelength (nm)</text>
<text transform="translate(175.7 908.7) scale(1.096 1)" font-family="Liberation Sans, sans-serif" font-weight="bold" font-size="14.69" fill="#000">Wavelength (nm)</text>
<text transform="translate(21 170.05) rotate(-90) scale(1.010 1)" font-family="Liberation Sans, sans-serif" font-weight="bold" font-size="15.52" fill="#000">Absorbance</text>
<text transform="translate(20.6 480.55) rotate(-90) scale(1.010 1)" font-family="Liberation Sans, sans-serif" font-weight="bold" font-size="15.52" fill="#000">Absorbance</text>
<text transform="translate(23.7 790.5) rotate(-90) scale(1.010 1)" font-family="Liberation Sans, sans-serif" font-weight="bold" font-size="15.52" fill="#000">Absorbance</text>
<text x="-0.9" y="23.8" font-family="Liberation Sans, sans-serif" font-weight="bold" font-size="22.8" fill="#000">(a)</text>
<text x="-0.9" y="311.8" font-family="Liberation Sans, sans-serif" font-weight="bold" font-size="22.8" fill="#000">(b)</text>
<text x="-0.9" y="650.7" font-family="Liberation Sans, sans-serif" font-weight="bold" font-size="22.8" fill="#000">(c)</text>
<line x1="267.9" y1="170.8" x2="297.7" y2="170.8" stroke="#FF8010" stroke-width="2"/>
<text transform="translate(301.15 174.5) scale(1.096 1)" font-family="Liberation Sans, sans-serif" font-weight="bold" font-size="12.47" fill="#000">pH-13</text>
<line x1="342.3" y1="170.8" x2="372.1" y2="170.8" stroke="#48B448" stroke-width="2"/>
<text transform="translate(375.45 174.5) scale(1.096 1)" font-family="Liberation Sans, sans-serif" font-weight="bold" font-size="12.47" fill="#000">pH-12</text>
<line x1="267.9" y1="186.1" x2="297.7" y2="186.1" stroke="#0000FF" stroke-width="2"/>
<text transform="translate(301.15 189.8) scale(1.096 1)" font-family="Liberation Sans, sans-serif" font-weight="bold" font-size="12.47" fill="#000">pH-11</text>
<line x1="342.3" y1="186.1" x2="372.1" y2="186.1" stroke="#008080" stroke-width="2"/>
<text transform="translate(375.45 189.8) scale(1.096 1)" font-family="Liberation Sans, sans-serif" font-weight="bold" font-size="12.47" fill="#000">pH-10</text>
<line x1="267.9" y1="201.4" x2="297.7" y2="201.4" stroke="#FF00FF" stroke-width="2"/>
<text transform="translate(301.15 205.1) scale(1.096 1)" font-family="Liberation Sans, sans-serif" font-weight="bold" font-size="12.47" fill="#000">pH-9</text>
<line x1="342.3" y1="201.4" x2="372.1" y2="201.4" stroke="#808000" stroke-width="2"/>
<text transform="translate(375.45 205.1) scale(1.096 1)" font-family="Liberation Sans, sans-serif" font-weight="bold" font-size="12.47" fill="#000">pH-8</text>
<line x1="267.9" y1="216.65" x2="297.7" y2="216.65" stroke="#000080" stroke-width="2"/>
<text transform="translate(301.15 220.35) scale(1.096 1)" font-family="Liberation Sans, sans-serif" font-weight="bold" font-size="12.47" fill="#000">pH-7</text>
<line x1="342.3" y1="216.65" x2="372.1" y2="216.65" stroke="#800000" stroke-width="2"/>
<text transform="translate(375.45 220.35) scale(1.096 1)" font-family="Liberation Sans, sans-serif" font-weight="bold" font-size="12.47" fill="#000">pH-6</text>
<line x1="342.3" y1="231.8" x2="372.1" y2="231.8" stroke="#FF0080" stroke-width="2"/>
<text transform="translate(375.45 235.5) scale(1.096 1)" font-family="Liberation Sans, sans-serif" font-weight="bold" font-size="12.47" fill="#000">pH-5</text>
<line x1="257.4" y1="471.9" x2="287.2" y2="471.9" stroke="#FF8010" stroke-width="2"/>
<text transform="translate(290.68 476.6) scale(1.097 1)" font-family="Liberation Sans, sans-serif" font-weight="bold" font-size="12.40" fill="#000">75 min</text>
<line x1="338.1" y1="471.9" x2="367.2" y2="471.9" stroke="#48B448" stroke-width="2"/>
<text transform="translate(371.38 476.6) scale(1.097 1)" font-family="Liberation Sans, sans-serif" font-weight="bold" font-size="12.40" fill="#000">60 min</text>
<line x1="257.4" y1="492.75" x2="287.2" y2="492.75" stroke="#0000FF" stroke-width="2"/>
<text transform="translate(290.68 497.45) scale(1.097 1)" font-family="Liberation Sans, sans-serif" font-weight="bold" font-size="12.40" fill="#000">45 min</text>
<line x1="338.1" y1="492.75" x2="367.2" y2="492.75" stroke="#008080" stroke-width="2"/>
<text transform="translate(371.38 497.45) scale(1.097 1)" font-family="Liberation Sans, sans-serif" font-weight="bold" font-size="12.40" fill="#000">30 min</text>
<line x1="257.4" y1="513.6" x2="287.2" y2="513.6" stroke="#FF00FF" stroke-width="2"/>
<text transform="translate(290.68 518.3) scale(1.097 1)" font-family="Liberation Sans, sans-serif" font-weight="bold" font-size="12.40" fill="#000">20 min</text>
<line x1="338.1" y1="513.6" x2="367.2" y2="513.6" stroke="#808000" stroke-width="2"/>
<text transform="translate(371.38 518.3) scale(1.097 1)" font-family="Liberation Sans, sans-serif" font-weight="bold" font-size="12.40" fill="#000">10 min</text>
<line x1="272.8" y1="534.45" x2="302.6" y2="534.45" stroke="#000080" stroke-width="2"/>
<text transform="translate(306.44 539.15) scale(1.097 1)" font-family="Liberation Sans, sans-serif" font-weight="bold" font-size="12.40" fill="#000">5 min</text>
<line x1="345.6" y1="534.45" x2="375.3" y2="534.45" stroke="#800000" stroke-width="2"/>
<text transform="translate(378.94 539.15) scale(1.097 1)" font-family="Liberation Sans, sans-serif" font-weight="bold" font-size="12.40" fill="#000">0 min</text>
<line x1="273" y1="785.25" x2="304.9" y2="785.25" stroke="#FF8010" stroke-width="2"/>
<text transform="translate(308.97 790.1) scale(1.018 1)" font-family="Liberation Sans, sans-serif" font-weight="bold" font-size="13.50" fill="#000">80</text>
<text transform="translate(324.26 783.46) scale(1.219 1)" font-family="Liberation Sans, sans-serif" font-weight="bold" font-size="8.90" fill="#000">O</text>
<text transform="translate(333.17 790.1) scale(1.018 1)" font-family="Liberation Sans, sans-serif" font-weight="bold" font-size="13.50" fill="#000">C</text>
<line x1="346" y1="785.25" x2="377" y2="785.25" stroke="#48B448" stroke-width="2"/>
<text transform="translate(381.27 790.1) scale(1.018 1)" font-family="Liberation Sans, sans-serif" font-weight="bold" font-size="13.50" fill="#000">70</text>
<text transform="translate(396.56 783.46) scale(1.219 1)" font-family="Liberation Sans, sans-serif" font-weight="bold" font-size="8.90" fill="#000">O</text>
<text transform="translate(405.47 790.1) scale(1.018 1)" font-family="Liberation Sans, sans-serif" font-weight="bold" font-size="13.50" fill="#000">C</text>
<line x1="273" y1="801.85" x2="304.9" y2="801.85" stroke="#0000FF" stroke-width="2"/>
<text transform="translate(308.97 806.7) scale(1.018 1)" font-family="Liberation Sans, sans-serif" font-weight="bold" font-size="13.50" fill="#000">60</text>
<text transform="translate(324.26 800.06) scale(1.219 1)" font-family="Liberation Sans, sans-serif" font-weight="bold" font-size="8.90" fill="#000">O</text>
<text transform="translate(333.17 806.7) scale(1.018 1)" font-family="Liberation Sans, sans-serif" font-weight="bold" font-size="13.50" fill="#000">C</text>
<line x1="346" y1="801.85" x2="377" y2="801.85" stroke="#008080" stroke-width="2"/>
<text transform="translate(381.49 806.7) scale(1.018 1)" font-family="Liberation Sans, sans-serif" font-weight="bold" font-size="13.50" fill="#000">50</text>
<text transform="translate(396.78 800.06) scale(1.219 1)" font-family="Liberation Sans, sans-serif" font-weight="bold" font-size="8.90" fill="#000">O</text>
<text transform="translate(405.69 806.7) scale(1.018 1)" font-family="Liberation Sans, sans-serif" font-weight="bold" font-size="13.50" fill="#000">C</text>
<line x1="273" y1="818.45" x2="304.9" y2="818.45" stroke="#FF00FF" stroke-width="2"/>
<text transform="translate(309.19 823.3) scale(1.018 1)" font-family="Liberation Sans, sans-serif" font-weight="bold" font-size="13.50" fill="#000">37</text>
<text transform="translate(324.48 816.66) scale(1.219 1)" font-family="Liberation Sans, sans-serif" font-weight="bold" font-size="8.90" fill="#000">O</text>
<text transform="translate(333.39 823.3) scale(1.018 1)" font-family="Liberation Sans, sans-serif" font-weight="bold" font-size="13.50" fill="#000">C</text>
<line x1="346" y1="818.45" x2="377" y2="818.45" stroke="#808000" stroke-width="2"/>
<text transform="translate(381.27 823.3) scale(1.018 1)" font-family="Liberation Sans, sans-serif" font-weight="bold" font-size="13.50" fill="#000">25</text>
<text transform="translate(396.78 816.66) scale(1.219 1)" font-family="Liberation Sans, sans-serif" font-weight="bold" font-size="8.90" fill="#000">O</text>
<text transform="translate(405.69 823.3) scale(1.018 1)" font-family="Liberation Sans, sans-serif" font-weight="bold" font-size="13.50" fill="#000">C</text>
<line x1="273" y1="835.05" x2="304.9" y2="835.05" stroke="#000080" stroke-width="2"/>
<text transform="translate(308.54 839.9) scale(1.018 1)" font-family="Liberation Sans, sans-serif" font-weight="bold" font-size="13.50" fill="#000">15</text>
<text transform="translate(324.05 833.26) scale(1.219 1)" font-family="Liberation Sans, sans-serif" font-weight="bold" font-size="8.90" fill="#000">O</text>
<text transform="translate(332.96 839.9) scale(1.018 1)" font-family="Liberation Sans, sans-serif" font-weight="bold" font-size="13.50" fill="#000">C</text>
<line x1="346" y1="835.05" x2="377" y2="835.05" stroke="#800000" stroke-width="2"/>
<text transform="translate(381.49 839.9) scale(1.018 1)" font-family="Liberation Sans, sans-serif" font-weight="bold" font-size="13.50" fill="#000">5</text>
<text transform="translate(389.35 833.26) scale(1.219 1)" font-family="Liberation Sans, sans-serif" font-weight="bold" font-size="8.90" fill="#000">O</text>
<text transform="translate(398.26 839.9) scale(1.018 1)" font-family="Liberation Sans, sans-serif" font-weight="bold" font-size="13.50" fill="#000">C</text>
<defs>
<linearGradient id="lsh" x1="0" y1="0" x2="1" y2="0"><stop offset="0" stop-color="#fff" stop-opacity="0.18"/><stop offset="0.25" stop-color="#fff" stop-opacity="0.05"/><stop offset="0.7" stop-color="#000" stop-opacity="0"/><stop offset="1" stop-color="#000" stop-opacity="0.12"/></linearGradient>
<linearGradient id="capa" x1="0" y1="0" x2="0" y2="1"><stop offset="0" stop-color="#F6F6F7"/><stop offset="0.6" stop-color="#F6F6F7"/><stop offset="1" stop-color="#E2E2E6"/></linearGradient>
<linearGradient id="capaf" x1="0" y1="0" x2="0" y2="1"><stop offset="0" stop-color="#FBFBFB"/><stop offset="0.6" stop-color="#FBFBFB"/><stop offset="1" stop-color="#F0F0F2"/></linearGradient>
<linearGradient id="capb" x1="0" y1="0" x2="0" y2="1"><stop offset="0" stop-color="#F6F6F7"/><stop offset="0.6" stop-color="#F6F6F7"/><stop offset="1" stop-color="#E2E2E6"/></linearGradient>
<linearGradient id="capbf" x1="0" y1="0" x2="0" y2="1"><stop offset="0" stop-color="#FBFBFB"/><stop offset="0.6" stop-color="#FBFBFB"/><stop offset="1" stop-color="#F0F0F2"/></linearGradient>
<linearGradient id="capc" x1="0" y1="0" x2="0" y2="1"><stop offset="0" stop-color="#EEE8DA"/><stop offset="0.6" stop-color="#EEE8DA"/><stop offset="1" stop-color="#E2DCCC"/></linearGradient>
<linearGradient id="capcf" x1="0" y1="0" x2="0" y2="1"><stop offset="0" stop-color="#F6F2EA"/><stop offset="0.6" stop-color="#F6F2EA"/><stop offset="1" stop-color="#ECE8DE"/></linearGradient>
<linearGradient id="glassa" x1="0" y1="0" x2="1" y2="0"><stop offset="0" stop-color="#ACA8B2"/><stop offset="0.15" stop-color="#C2BEC8"/><stop offset="0.85" stop-color="#C2BEC8"/><stop offset="1" stop-color="#ACA8B2"/></linearGradient>
<linearGradient id="glassaf" x1="0" y1="0" x2="1" y2="0"><stop offset="0" stop-color="#CFCFD4"/><stop offset="0.15" stop-color="#E2E2E6"/><stop offset="0.85" stop-color="#E2E2E6"/><stop offset="1" stop-color="#CFCFD4"/></linearGradient>
<linearGradient id="glassb" x1="0" y1="0" x2="1" y2="0"><stop offset="0" stop-color="#B8B4BE"/><stop offset="0.15" stop-color="#CCC8D0"/><stop offset="0.85" stop-color="#CCC8D0"/><stop offset="1" stop-color="#B8B4BE"/></linearGradient>
<linearGradient id="glassbf" x1="0" y1="0" x2="1" y2="0"><stop offset="0" stop-color="#CECED2"/><stop offset="0.15" stop-color="#E0E0E4"/><stop offset="0.85" stop-color="#E0E0E4"/><stop offset="1" stop-color="#CECED2"/></linearGradient>
<linearGradient id="glassc" x1="0" y1="0" x2="1" y2="0"><stop offset="0" stop-color="#C0BCC4"/><stop offset="0.15" stop-color="#D6D2D8"/><stop offset="0.85" stop-color="#D6D2D8"/><stop offset="1" stop-color="#C0BCC4"/></linearGradient>
<linearGradient id="glasscf" x1="0" y1="0" x2="1" y2="0"><stop offset="0" stop-color="#D0CCD2"/><stop offset="0.15" stop-color="#E2DEE2"/><stop offset="0.85" stop-color="#E2DEE2"/><stop offset="1" stop-color="#D0CCD2"/></linearGradient>
</defs>
<g>
<rect x="425.8" y="57.6" width="239.8" height="66.8" fill="#EDEDF0"/>
<rect x="425.8" y="57.6" width="239.8" height="34.6" fill="#C2BEC8"/>
<rect x="425.8" y="57.6" width="239.8" height="13.4" fill="#A4A2AA"/>
<rect x="425.8" y="57.6" width="239.8" height="1.3" fill="#A9A7AF"/>
<g transform="translate(0 57.6) skewX(7.266) translate(0 -57.6)">
<linearGradient id="lq1" x1="0" y1="0" x2="0" y2="1"><stop offset="0" stop-color="#CFA745"/><stop offset="0.55" stop-color="#D8AE48"/><stop offset="1" stop-color="#DFBC68"/></linearGradient>
<rect x="427.8" y="70.5" width="23.3" height="23.2" fill="url(#glassa)"/>
<path d="M428.5 72 V91.2 M450.4 72 V91.2" stroke="#EEEEF2" stroke-width="0.8" opacity="0.7"/>
<path d="M427.9 93 H451 V121.4 Q451 123.6 448.5 123.6 H430.4 Q427.9 123.6 427.9 121.4 Z" fill="url(#lq1)"/>
<rect x="427.9" y="93" width="23.1" height="28.9" fill="url(#lsh)"/>
<ellipse cx="439.45" cy="92.5" rx="11.35" ry="2.2" fill="#FBFAF6"/>
<path d="M428.2 92.8 Q439.45 95.8 450.7 92.8" stroke="#8C6A3A" stroke-width="0.8" fill="none" opacity="0.8"/>
<path d="M428.7 58.9 H450.2 Q451.7 58.9 451.7 60.6 L451.1 71 H427.8 L427.2 60.6 Q427.2 58.9 428.7 58.9 Z" fill="url(#capa)"/>
</g>
<g transform="translate(0 57.6) skewX(5.395) translate(0 -57.6)">
<linearGradient id="lq2" x1="0" y1="0" x2="0" y2="1"><stop offset="0" stop-color="#D5AA47"/><stop offset="0.55" stop-color="#DEB24A"/><stop offset="1" stop-color="#E3BF6A"/></linearGradient>
<rect x="455.3" y="70.5" width="23.4" height="23.2" fill="url(#glassa)"/>
<path d="M456 72 V91.2 M478 72 V91.2" stroke="#EEEEF2" stroke-width="0.8" opacity="0.7"/>
<path d="M455.4 93 H478.6 V121.4 Q478.6 123.6 476.1 123.6 H457.9 Q455.4 123.6 455.4 121.4 Z" fill="url(#lq2)"/>
<rect x="455.4" y="93" width="23.2" height="28.9" fill="url(#lsh)"/>
<ellipse cx="467" cy="92.5" rx="11.4" ry="2.2" fill="#FBFAF6"/>
<path d="M455.7 92.8 Q467 95.8 478.3 92.8" stroke="#8C6A3A" stroke-width="0.8" fill="none" opacity="0.8"/>
<path d="M456.2 58.9 H477.8 Q479.3 58.9 479.3 60.6 L478.7 71 H455.3 L454.7 60.6 Q454.7 58.9 456.2 58.9 Z" fill="url(#capa)"/>
</g>
<g transform="translate(0 57.6) skewX(3.485) translate(0 -57.6)">
<linearGradient id="lq3" x1="0" y1="0" x2="0" y2="1"><stop offset="0" stop-color="#D7A845"/><stop offset="0.55" stop-color="#E0B048"/><stop offset="1" stop-color="#E5BE68"/></linearGradient>
<rect x="483.6" y="70.5" width="22.7" height="23.2" fill="url(#glassa)"/>
<path d="M484.3 72 V91.2 M505.6 72 V91.2" stroke="#EEEEF2" stroke-width="0.8" opacity="0.7"/>
<path d="M483.7 93 H506.2 V121.4 Q506.2 123.6 503.7 123.6 H486.2 Q483.7 123.6 483.7 121.4 Z" fill="url(#lq3)"/>
<rect x="483.7" y="93" width="22.5" height="28.9" fill="url(#lsh)"/>
<ellipse cx="494.95" cy="92.5" rx="11.05" ry="2.2" fill="#FBFAF6"/>
<path d="M484 92.8 Q494.95 95.8 505.9 92.8" stroke="#8C6A3A" stroke-width="0.8" fill="none" opacity="0.8"/>
<path d="M484.5 58.9 H505.4 Q506.9 58.9 506.9 60.6 L506.3 71 H483.6 L483 60.6 Q483 58.9 484.5 58.9 Z" fill="url(#capa)"/>
</g>
<g transform="translate(0 57.6) skewX(1.639) translate(0 -57.6)">
<linearGradient id="lq4" x1="0" y1="0" x2="0" y2="1"><stop offset="0" stop-color="#D8AA45"/><stop offset="0.55" stop-color="#E2B248"/><stop offset="1" stop-color="#E7BF68"/></linearGradient>
<rect x="510.9" y="70.5" width="21.9" height="23.2" fill="url(#glassa)"/>
<path d="M511.6 72 V91.2 M532.1 72 V91.2" stroke="#EEEEF2" stroke-width="0.8" opacity="0.7"/>
<path d="M511 93 H532.7 V121.4 Q532.7 123.6 530.2 123.6 H513.5 Q511 123.6 511 121.4 Z" fill="url(#lq4)"/>
<rect x="511" y="93" width="21.7" height="28.9" fill="url(#lsh)"/>
<ellipse cx="521.85" cy="92.5" rx="10.65" ry="2.2" fill="#FBFAF6"/>
<path d="M511.3 92.8 Q521.85 95.8 532.4 92.8" stroke="#8C6A3A" stroke-width="0.8" fill="none" opacity="0.8"/>
<path d="M511.8 58.9 H531.9 Q533.4 58.9 533.4 60.6 L532.8 71 H510.9 L510.3 60.6 Q510.3 58.9 511.8 58.9 Z" fill="url(#capa)"/>
</g>
<g transform="translate(0 57.6) skewX(-0.189) translate(0 -57.6)">
<linearGradient id="lq5" x1="0" y1="0" x2="0" y2="1"><stop offset="0" stop-color="#DCA841"/><stop offset="0.55" stop-color="#E6B044"/><stop offset="1" stop-color="#EABE65"/></linearGradient>
<rect x="537.5" y="70.5" width="21.9" height="23.2" fill="url(#glassa)"/>
<path d="M538.2 72 V91.2 M558.7 72 V91.2" stroke="#EEEEF2" stroke-width="0.8" opacity="0.7"/>
<path d="M537.6 93 H559.3 V121.4 Q559.3 123.6 556.8 123.6 H540.1 Q537.6 123.6 537.6 121.4 Z" fill="url(#lq5)"/>
<rect x="537.6" y="93" width="21.7" height="28.9" fill="url(#lsh)"/>
<ellipse cx="548.45" cy="92.5" rx="10.65" ry="2.2" fill="#FBFAF6"/>
<path d="M537.9 92.8 Q548.45 95.8 559 92.8" stroke="#8C6A3A" stroke-width="0.8" fill="none" opacity="0.8"/>
<path d="M538.4 58.9 H558.5 Q560 58.9 560 60.6 L559.4 71 H537.5 L536.9 60.6 Q536.9 58.9 538.4 58.9 Z" fill="url(#capa)"/>
</g>
<g transform="translate(0 57.6) skewX(-2.024) translate(0 -57.6)">
<linearGradient id="lq6" x1="0" y1="0" x2="0" y2="1"><stop offset="0" stop-color="#DAA53D"/><stop offset="0.55" stop-color="#E4AC40"/><stop offset="1" stop-color="#E8BA62"/></linearGradient>
<rect x="564" y="70.5" width="22.3" height="23.2" fill="url(#glassa)"/>
<path d="M564.7 72 V91.2 M585.6 72 V91.2" stroke="#EEEEF2" stroke-width="0.8" opacity="0.7"/>
<path d="M564.1 93 H586.2 V121.4 Q586.2 123.6 583.7 123.6 H566.6 Q564.1 123.6 564.1 121.4 Z" fill="url(#lq6)"/>
<rect x="564.1" y="93" width="22.1" height="28.9" fill="url(#lsh)"/>
<ellipse cx="575.15" cy="92.5" rx="10.85" ry="2.2" fill="#FBFAF6"/>
<path d="M564.4 92.8 Q575.15 95.8 585.9 92.8" stroke="#8C6A3A" stroke-width="0.8" fill="none" opacity="0.8"/>
<path d="M564.9 58.9 H585.4 Q586.9 58.9 586.9 60.6 L586.3 71 H564 L563.4 60.6 Q563.4 58.9 564.9 58.9 Z" fill="url(#capa)"/>
</g>
<g transform="translate(0 57.6) skewX(-3.793) translate(0 -57.6)">
<linearGradient id="lq7" x1="0" y1="0" x2="0" y2="1"><stop offset="0" stop-color="#DAA33B"/><stop offset="0.55" stop-color="#E4AA3E"/><stop offset="1" stop-color="#E8B960"/></linearGradient>
<rect x="589.6" y="70.5" width="22.7" height="23.2" fill="url(#glassa)"/>
<path d="M590.3 72 V91.2 M611.6 72 V91.2" stroke="#EEEEF2" stroke-width="0.8" opacity="0.7"/>
<path d="M589.7 93 H612.2 V121.4 Q612.2 123.6 609.7 123.6 H592.2 Q589.7 123.6 589.7 121.4 Z" fill="url(#lq7)"/>
<rect x="589.7" y="93" width="22.5" height="28.9" fill="url(#lsh)"/>
<ellipse cx="600.95" cy="92.5" rx="11.05" ry="2.2" fill="#FBFAF6"/>
<path d="M590 92.8 Q600.95 95.8 611.9 92.8" stroke="#8C6A3A" stroke-width="0.8" fill="none" opacity="0.8"/>
<path d="M590.5 58.9 H611.4 Q612.9 58.9 612.9 60.6 L612.3 71 H589.6 L589 60.6 Q589 58.9 590.5 58.9 Z" fill="url(#capa)"/>
</g>
<g transform="translate(0 57.6) skewX(-5.521) translate(0 -57.6)">
<linearGradient id="lq8" x1="0" y1="0" x2="0" y2="1"><stop offset="0" stop-color="#D8A139"/><stop offset="0.55" stop-color="#E2A83C"/><stop offset="1" stop-color="#E7B75F"/></linearGradient>
<rect x="615.1" y="70.5" width="22.3" height="23.2" fill="url(#glassa)"/>
<path d="M615.8 72 V91.2 M636.7 72 V91.2" stroke="#EEEEF2" stroke-width="0.8" opacity="0.7"/>
<path d="M615.2 93 H637.3 V121.4 Q637.3 123.6 634.8 123.6 H617.7 Q615.2 123.6 615.2 121.4 Z" fill="url(#lq8)"/>
<rect x="615.2" y="93" width="22.1" height="28.9" fill="url(#lsh)"/>
<ellipse cx="626.25" cy="92.5" rx="10.85" ry="2.2" fill="#FBFAF6"/>
<path d="M615.5 92.8 Q626.25 95.8 637 92.8" stroke="#8C6A3A" stroke-width="0.8" fill="none" opacity="0.8"/>
<path d="M616 58.9 H636.5 Q638 58.9 638 60.6 L637.4 71 H615.1 L614.5 60.6 Q614.5 58.9 616 58.9 Z" fill="url(#capa)"/>
</g>
<g transform="translate(0 57.6) skewX(-7.357) translate(0 -57.6)">
<linearGradient id="lq9" x1="0" y1="0" x2="0" y2="1"><stop offset="0" stop-color="#D19D3B"/><stop offset="0.55" stop-color="#DAA43E"/><stop offset="1" stop-color="#E0B460"/></linearGradient>
<rect x="641.6" y="70.5" width="23.4" height="23.2" fill="url(#glassa)"/>
<path d="M642.3 72 V91.2 M664.3 72 V91.2" stroke="#EEEEF2" stroke-width="0.8" opacity="0.7"/>
<path d="M641.7 93 H664.9 V121.4 Q664.9 123.6 662.4 123.6 H644.2 Q641.7 123.6 641.7 121.4 Z" fill="url(#lq9)"/>
<rect x="641.7" y="93" width="23.2" height="28.9" fill="url(#lsh)"/>
<ellipse cx="653.3" cy="92.5" rx="11.4" ry="2.2" fill="#FBFAF6"/>
<path d="M642 92.8 Q653.3 95.8 664.6 92.8" stroke="#8C6A3A" stroke-width="0.8" fill="none" opacity="0.8"/>
<path d="M642.5 58.9 H664.1 Q665.6 58.9 665.6 60.6 L665 71 H641.6 L641 60.6 Q641 58.9 642.5 58.9 Z" fill="url(#capa)"/>
</g>
</g>
<g>
<rect x="435.3" y="144.2" width="223.1" height="68.6" fill="#F4F4F6"/>
<rect x="435.3" y="144.2" width="223.1" height="35.4" fill="#E4E4E8"/>
<rect x="435.3" y="144.2" width="223.1" height="12.8" fill="#DCDCE0"/>
<rect x="435.3" y="144.2" width="223.1" height="1.3" fill="#D0D0D4"/>
<g transform="translate(0 144.2) skewX(6.103) translate(0 -144.2)">
<linearGradient id="lq10" x1="0" y1="0" x2="0" y2="1"><stop offset="0" stop-color="#D77520"/><stop offset="0.55" stop-color="#E07A22"/><stop offset="1" stop-color="#E1812F"/></linearGradient>
<rect x="438" y="156.5" width="23.3" height="24.6" fill="url(#glassaf)"/>
<path d="M438.7 158 V178.6 M460.6 158 V178.6" stroke="#EEEEF2" stroke-width="0.8" opacity="0.7"/>
<path d="M438.1 180.4 H461.2 V209.6 Q461.2 211.8 458.7 211.8 H440.6 Q438.1 211.8 438.1 209.6 Z" fill="url(#lq10)"/>
<rect x="438.1" y="180.4" width="23.1" height="29.7" fill="url(#lsh)"/>
<ellipse cx="449.65" cy="180.5" rx="11.05" ry="1.8" fill="#F6F0E6"/>
<path d="M438.9 145.5 H460.4 Q461.9 145.5 461.9 147.2 L461.3 157 H438 L437.4 147.2 Q437.4 145.5 438.9 145.5 Z" fill="url(#capaf)"/>
</g>
<g transform="translate(0 144.2) skewX(4.566) translate(0 -144.2)">
<linearGradient id="lq11" x1="0" y1="0" x2="0" y2="1"><stop offset="0" stop-color="#9C2818"/><stop offset="0.55" stop-color="#A32A1A"/><stop offset="1" stop-color="#A83627"/></linearGradient>
<rect x="463.5" y="156.5" width="21.5" height="24.6" fill="url(#glassaf)"/>
<path d="M464.2 158 V178.6 M484.3 158 V178.6" stroke="#EEEEF2" stroke-width="0.8" opacity="0.7"/>
<path d="M463.6 180.4 H484.9 V209.6 Q484.9 211.8 482.4 211.8 H466.1 Q463.6 211.8 463.6 209.6 Z" fill="url(#lq11)"/>
<rect x="463.6" y="180.4" width="21.3" height="29.7" fill="url(#lsh)"/>
<ellipse cx="474.25" cy="180.5" rx="10.15" ry="1.8" fill="#E8A428"/>
<path d="M464.4 145.5 H484.1 Q485.6 145.5 485.6 147.2 L485 157 H463.5 L462.9 147.2 Q462.9 145.5 464.4 145.5 Z" fill="url(#capaf)"/>
</g>
<g transform="translate(0 144.2) skewX(3.076) translate(0 -144.2)">
<linearGradient id="lq12" x1="0" y1="0" x2="0" y2="1"><stop offset="0" stop-color="#56181A"/><stop offset="0.55" stop-color="#5A1A1C"/><stop offset="1" stop-color="#632729"/></linearGradient>
<rect x="486.8" y="156.5" width="22.4" height="24.6" fill="url(#glassaf)"/>
<path d="M487.5 158 V178.6 M508.5 158 V178.6" stroke="#EEEEF2" stroke-width="0.8" opacity="0.7"/>
<path d="M486.9 180.4 H509.1 V209.6 Q509.1 211.8 506.6 211.8 H489.4 Q486.9 211.8 486.9 209.6 Z" fill="url(#lq12)"/>
<rect x="486.9" y="180.4" width="22.2" height="29.7" fill="url(#lsh)"/>
<ellipse cx="498" cy="180.5" rx="10.6" ry="1.8" fill="#E8A428"/>
<path d="M487.7 145.5 H508.3 Q509.8 145.5 509.8 147.2 L509.2 157 H486.8 L486.2 147.2 Q486.2 145.5 487.7 145.5 Z" fill="url(#capaf)"/>
</g>
<g transform="translate(0 144.2) skewX(1.528) translate(0 -144.2)">
<linearGradient id="lq13" x1="0" y1="0" x2="0" y2="1"><stop offset="0" stop-color="#52171C"/><stop offset="0.55" stop-color="#56181E"/><stop offset="1" stop-color="#60252B"/></linearGradient>
<rect x="511.8" y="156.5" width="21.6" height="24.6" fill="url(#glassaf)"/>
<path d="M512.5 158 V178.6 M532.7 158 V178.6" stroke="#EEEEF2" stroke-width="0.8" opacity="0.7"/>
<path d="M511.9 180.4 H533.3 V209.6 Q533.3 211.8 530.8 211.8 H514.4 Q511.9 211.8 511.9 209.6 Z" fill="url(#lq13)"/>
<rect x="511.9" y="180.4" width="21.4" height="29.7" fill="url(#lsh)"/>
<ellipse cx="522.6" cy="180.5" rx="10.2" ry="1.8" fill="#E8A428"/>
<path d="M512.7 145.5 H532.5 Q534 145.5 534 147.2 L533.4 157 H511.8 L511.2 147.2 Q511.2 145.5 512.7 145.5 Z" fill="url(#capaf)"/>
</g>
<g transform="translate(0 144.2) skewX(0.006) translate(0 -144.2)">
<linearGradient id="lq14" x1="0" y1="0" x2="0" y2="1"><stop offset="0" stop-color="#391720"/><stop offset="0.55" stop-color="#3C1822"/><stop offset="1" stop-color="#47252F"/></linearGradient>
<rect x="536.1" y="156.5" width="21.3" height="24.6" fill="url(#glassaf)"/>
<path d="M536.8 158 V178.6 M556.7 158 V178.6" stroke="#EEEEF2" stroke-width="0.8" opacity="0.7"/>
<path d="M536.2 180.4 H557.3 V209.6 Q557.3 211.8 554.8 211.8 H538.7 Q536.2 211.8 536.2 209.6 Z" fill="url(#lq14)"/>
<rect x="536.2" y="180.4" width="21.1" height="29.7" fill="url(#lsh)"/>
<ellipse cx="546.75" cy="180.5" rx="10.05" ry="1.8" fill="#E8A428"/>
<path d="M537 145.5 H556.5 Q558 145.5 558 147.2 L557.4 157 H536.1 L535.5 147.2 Q535.5 145.5 537 145.5 Z" fill="url(#capaf)"/>
</g>
<g transform="translate(0 144.2) skewX(-1.497) translate(0 -144.2)">
<linearGradient id="lq15" x1="0" y1="0" x2="0" y2="1"><stop offset="0" stop-color="#261A24"/><stop offset="0.55" stop-color="#281C26"/><stop offset="1" stop-color="#342933"/></linearGradient>
<rect x="559.2" y="156.5" width="22.8" height="24.6" fill="url(#glassaf)"/>
<path d="M559.9 158 V178.6 M581.3 158 V178.6" stroke="#EEEEF2" stroke-width="0.8" opacity="0.7"/>
<path d="M559.3 180.4 H581.9 V209.6 Q581.9 211.8 579.4 211.8 H561.8 Q559.3 211.8 559.3 209.6 Z" fill="url(#lq15)"/>
<rect x="559.3" y="180.4" width="22.6" height="29.7" fill="url(#lsh)"/>
<ellipse cx="570.6" cy="180.5" rx="10.8" ry="1.8" fill="#E8A428"/>
<path d="M560.1 145.5 H581.1 Q582.6 145.5 582.6 147.2 L582 157 H559.2 L558.6 147.2 Q558.6 145.5 560.1 145.5 Z" fill="url(#capaf)"/>
</g>
<g transform="translate(0 144.2) skewX(-3.019) translate(0 -144.2)">
<linearGradient id="lq16" x1="0" y1="0" x2="0" y2="1"><stop offset="0" stop-color="#241A26"/><stop offset="0.55" stop-color="#261C28"/><stop offset="1" stop-color="#332934"/></linearGradient>
<rect x="583.6" y="156.5" width="22.4" height="24.6" fill="url(#glassaf)"/>
<path d="M584.3 158 V178.6 M605.3 158 V178.6" stroke="#EEEEF2" stroke-width="0.8" opacity="0.7"/>
<path d="M583.7 180.4 H605.9 V209.6 Q605.9 211.8 603.4 211.8 H586.2 Q583.7 211.8 583.7 209.6 Z" fill="url(#lq16)"/>
<rect x="583.7" y="180.4" width="22.2" height="29.7" fill="url(#lsh)"/>
<ellipse cx="594.8" cy="180.5" rx="10.6" ry="1.8" fill="#E8A428"/>
<path d="M584.5 145.5 H605.1 Q606.6 145.5 606.6 147.2 L606 157 H583.6 L583 147.2 Q583 145.5 584.5 145.5 Z" fill="url(#capaf)"/>
</g>
<g transform="translate(0 144.2) skewX(-4.525) translate(0 -144.2)">
<linearGradient id="lq17" x1="0" y1="0" x2="0" y2="1"><stop offset="0" stop-color="#221824"/><stop offset="0.55" stop-color="#241A26"/><stop offset="1" stop-color="#312733"/></linearGradient>
<rect x="607.6" y="156.5" width="22.4" height="24.6" fill="url(#glassaf)"/>
<path d="M608.3 158 V178.6 M629.3 158 V178.6" stroke="#EEEEF2" stroke-width="0.8" opacity="0.7"/>
<path d="M607.7 180.4 H629.9 V209.6 Q629.9 211.8 627.4 211.8 H610.2 Q607.7 211.8 607.7 209.6 Z" fill="url(#lq17)"/>
<rect x="607.7" y="180.4" width="22.2" height="29.7" fill="url(#lsh)"/>
<ellipse cx="618.8" cy="180.5" rx="10.6" ry="1.8" fill="#E8A428"/>
<path d="M608.5 145.5 H629.1 Q630.6 145.5 630.6 147.2 L630 157 H607.6 L607 147.2 Q607 145.5 608.5 145.5 Z" fill="url(#capaf)"/>
</g>
<g transform="translate(0 144.2) skewX(-6.143) translate(0 -144.2)">
<linearGradient id="lq18" x1="0" y1="0" x2="0" y2="1"><stop offset="0" stop-color="#201722"/><stop offset="0.55" stop-color="#221824"/><stop offset="1" stop-color="#2F2531"/></linearGradient>
<rect x="631.6" y="156.5" width="26.2" height="24.6" fill="url(#glassaf)"/>
<path d="M632.3 158 V178.6 M657.1 158 V178.6" stroke="#EEEEF2" stroke-width="0.8" opacity="0.7"/>
<path d="M631.7 180.4 H657.7 V209.6 Q657.7 211.8 655.2 211.8 H634.2 Q631.7 211.8 631.7 209.6 Z" fill="url(#lq18)"/>
<rect x="631.7" y="180.4" width="26" height="29.7" fill="url(#lsh)"/>
<ellipse cx="644.7" cy="180.5" rx="12.5" ry="1.8" fill="#E8A428"/>
<path d="M632.5 145.5 H656.9 Q658.4 145.5 658.4 147.2 L657.8 157 H631.6 L631 147.2 Q631 145.5 632.5 145.5 Z" fill="url(#capaf)"/>
</g>
</g>
<g>
<rect x="444.9" y="352.9" width="214.7" height="69.2" fill="#EDEDF0"/>
<rect x="444.9" y="352.9" width="214.7" height="35.6" fill="#C9C5CF"/>
<rect x="444.9" y="352.9" width="214.7" height="12.7" fill="#AEACB4"/>
<rect x="444.9" y="352.9" width="214.7" height="1.3" fill="#A9A7AF"/>
<g transform="translate(0 352.9) skewX(4.305) translate(0 -352.9)">
<linearGradient id="lq19" x1="0" y1="0" x2="0" y2="1"><stop offset="0" stop-color="#DEAC45"/><stop offset="0.55" stop-color="#E8B448"/><stop offset="1" stop-color="#ECC168"/></linearGradient>
<rect x="446.7" y="365.1" width="22.9" height="24.9" fill="url(#glassb)"/>
<path d="M447.4 366.6 V387.5 M468.9 366.6 V387.5" stroke="#EEEEF2" stroke-width="0.8" opacity="0.7"/>
<path d="M446.8 389.3 H469.5 V419.1 Q469.5 421.3 467 421.3 H449.3 Q446.8 421.3 446.8 419.1 Z" fill="url(#lq19)"/>
<rect x="446.8" y="389.3" width="22.7" height="30.3" fill="url(#lsh)"/>
<ellipse cx="458.15" cy="388.8" rx="11.15" ry="2.2" fill="#FBFAF6"/>
<path d="M447.1 389.1 Q458.15 392.1 469.2 389.1" stroke="#8C6A3A" stroke-width="0.8" fill="none" opacity="0.8"/>
<path d="M447.6 354.2 H468.7 Q470.2 354.2 470.2 355.9 L469.6 365.6 H446.7 L446.1 355.9 Q446.1 354.2 447.6 354.2 Z" fill="url(#capb)"/>
</g>
<g transform="translate(0 352.9) skewX(3.068) translate(0 -352.9)">
<linearGradient id="lq20" x1="0" y1="0" x2="0" y2="1"><stop offset="0" stop-color="#E0AE47"/><stop offset="0.55" stop-color="#EAB64A"/><stop offset="1" stop-color="#EDC36A"/></linearGradient>
<rect x="473.9" y="365.1" width="22.7" height="24.9" fill="url(#glassb)"/>
<path d="M474.6 366.6 V387.5 M495.9 366.6 V387.5" stroke="#EEEEF2" stroke-width="0.8" opacity="0.7"/>
<path d="M474 389.3 H496.5 V419.1 Q496.5 421.3 494 421.3 H476.5 Q474 421.3 474 419.1 Z" fill="url(#lq20)"/>
<rect x="474" y="389.3" width="22.5" height="30.3" fill="url(#lsh)"/>
<ellipse cx="485.25" cy="388.8" rx="11.05" ry="2.2" fill="#FBFAF6"/>
<path d="M474.3 389.1 Q485.25 392.1 496.2 389.1" stroke="#8C6A3A" stroke-width="0.8" fill="none" opacity="0.8"/>
<path d="M474.8 354.2 H495.7 Q497.2 354.2 497.2 355.9 L496.6 365.6 H473.9 L473.3 355.9 Q473.3 354.2 474.8 354.2 Z" fill="url(#capb)"/>
</g>
<g transform="translate(0 352.9) skewX(1.821) translate(0 -352.9)">
<linearGradient id="lq21" x1="0" y1="0" x2="0" y2="1"><stop offset="0" stop-color="#E0AE47"/><stop offset="0.55" stop-color="#EAB64A"/><stop offset="1" stop-color="#EDC36A"/></linearGradient>
<rect x="501" y="365.1" width="23" height="24.9" fill="url(#glassb)"/>
<path d="M501.7 366.6 V387.5 M523.3 366.6 V387.5" stroke="#EEEEF2" stroke-width="0.8" opacity="0.7"/>
<path d="M501.1 389.3 H523.9 V419.1 Q523.9 421.3 521.4 421.3 H503.6 Q501.1 421.3 501.1 419.1 Z" fill="url(#lq21)"/>
<rect x="501.1" y="389.3" width="22.8" height="30.3" fill="url(#lsh)"/>
<ellipse cx="512.5" cy="388.8" rx="11.2" ry="2.2" fill="#FBFAF6"/>
<path d="M501.4 389.1 Q512.5 392.1 523.6 389.1" stroke="#8C6A3A" stroke-width="0.8" fill="none" opacity="0.8"/>
<path d="M501.9 354.2 H523.1 Q524.6 354.2 524.6 355.9 L524 365.6 H501 L500.4 355.9 Q500.4 354.2 501.9 354.2 Z" fill="url(#capb)"/>
</g>
<g transform="translate(0 352.9) skewX(0.584) translate(0 -352.9)">
<linearGradient id="lq22" x1="0" y1="0" x2="0" y2="1"><stop offset="0" stop-color="#E2B048"/><stop offset="0.55" stop-color="#ECB84C"/><stop offset="1" stop-color="#EFC46C"/></linearGradient>
<rect x="528.2" y="365.1" width="22.6" height="24.9" fill="url(#glassb)"/>
<path d="M528.9 366.6 V387.5 M550.1 366.6 V387.5" stroke="#EEEEF2" stroke-width="0.8" opacity="0.7"/>
<path d="M528.3 389.3 H550.7 V419.1 Q550.7 421.3 548.2 421.3 H530.8 Q528.3 421.3 528.3 419.1 Z" fill="url(#lq22)"/>
<rect x="528.3" y="389.3" width="22.4" height="30.3" fill="url(#lsh)"/>
<ellipse cx="539.5" cy="388.8" rx="11" ry="2.2" fill="#FBFAF6"/>
<path d="M528.6 389.1 Q539.5 392.1 550.4 389.1" stroke="#8C6A3A" stroke-width="0.8" fill="none" opacity="0.8"/>
<path d="M529.1 354.2 H549.9 Q551.4 354.2 551.4 355.9 L550.8 365.6 H528.2 L527.6 355.9 Q527.6 354.2 529.1 354.2 Z" fill="url(#capb)"/>
</g>
<g transform="translate(0 352.9) skewX(-0.594) translate(0 -352.9)">
<linearGradient id="lq23" x1="0" y1="0" x2="0" y2="1"><stop offset="0" stop-color="#E2B048"/><stop offset="0.55" stop-color="#ECB84C"/><stop offset="1" stop-color="#EFC46C"/></linearGradient>
<rect x="554" y="365.1" width="22.4" height="24.9" fill="url(#glassb)"/>
<path d="M554.7 366.6 V387.5 M575.7 366.6 V387.5" stroke="#EEEEF2" stroke-width="0.8" opacity="0.7"/>
<path d="M554.1 389.3 H576.3 V419.1 Q576.3 421.3 573.8 421.3 H556.6 Q554.1 421.3 554.1 419.1 Z" fill="url(#lq23)"/>
<rect x="554.1" y="389.3" width="22.2" height="30.3" fill="url(#lsh)"/>
<ellipse cx="565.2" cy="388.8" rx="10.9" ry="2.2" fill="#FBFAF6"/>
<path d="M554.4 389.1 Q565.2 392.1 576 389.1" stroke="#8C6A3A" stroke-width="0.8" fill="none" opacity="0.8"/>
<path d="M554.9 354.2 H575.5 Q577 354.2 577 355.9 L576.4 365.6 H554 L553.4 355.9 Q553.4 354.2 554.9 354.2 Z" fill="url(#capb)"/>
</g>
<g transform="translate(0 352.9) skewX(-1.798) translate(0 -352.9)">
<linearGradient id="lq24" x1="0" y1="0" x2="0" y2="1"><stop offset="0" stop-color="#E4B854"/><stop offset="0.55" stop-color="#EEC058"/><stop offset="1" stop-color="#F1CB76"/></linearGradient>
<rect x="580.2" y="365.1" width="22.6" height="24.9" fill="url(#glassb)"/>
<path d="M580.9 366.6 V387.5 M602.1 366.6 V387.5" stroke="#EEEEF2" stroke-width="0.8" opacity="0.7"/>
<path d="M580.3 389.3 H602.7 V419.1 Q602.7 421.3 600.2 421.3 H582.8 Q580.3 421.3 580.3 419.1 Z" fill="url(#lq24)"/>
<rect x="580.3" y="389.3" width="22.4" height="30.3" fill="url(#lsh)"/>
<ellipse cx="591.5" cy="388.8" rx="11" ry="2.2" fill="#FBFAF6"/>
<path d="M580.6 389.1 Q591.5 392.1 602.4 389.1" stroke="#8C6A3A" stroke-width="0.8" fill="none" opacity="0.8"/>
<path d="M581.1 354.2 H601.9 Q603.4 354.2 603.4 355.9 L602.8 365.6 H580.2 L579.6 355.9 Q579.6 354.2 581.1 354.2 Z" fill="url(#capb)"/>
</g>
<g transform="translate(0 352.9) skewX(-3.068) translate(0 -352.9)">
<linearGradient id="lq25" x1="0" y1="0" x2="0" y2="1"><stop offset="0" stop-color="#E2B048"/><stop offset="0.55" stop-color="#ECB84C"/><stop offset="1" stop-color="#EFC46C"/></linearGradient>
<rect x="607.8" y="365.1" width="22.9" height="24.9" fill="url(#glassb)"/>
<path d="M608.5 366.6 V387.5 M630 366.6 V387.5" stroke="#EEEEF2" stroke-width="0.8" opacity="0.7"/>
<path d="M607.9 389.3 H630.6 V419.1 Q630.6 421.3 628.1 421.3 H610.4 Q607.9 421.3 607.9 419.1 Z" fill="url(#lq25)"/>
<rect x="607.9" y="389.3" width="22.7" height="30.3" fill="url(#lsh)"/>
<ellipse cx="619.25" cy="388.8" rx="11.15" ry="2.2" fill="#FBFAF6"/>
<path d="M608.2 389.1 Q619.25 392.1 630.3 389.1" stroke="#8C6A3A" stroke-width="0.8" fill="none" opacity="0.8"/>
<path d="M608.7 354.2 H629.8 Q631.3 354.2 631.3 355.9 L630.7 365.6 H607.8 L607.2 355.9 Q607.2 354.2 608.7 354.2 Z" fill="url(#capb)"/>
</g>
<g transform="translate(0 352.9) skewX(-4.344) translate(0 -352.9)">
<linearGradient id="lq26" x1="0" y1="0" x2="0" y2="1"><stop offset="0" stop-color="#DEAA43"/><stop offset="0.55" stop-color="#E8B246"/><stop offset="1" stop-color="#ECBF67"/></linearGradient>
<rect x="635.5" y="365.1" width="23.4" height="24.9" fill="url(#glassb)"/>
<path d="M636.2 366.6 V387.5 M658.2 366.6 V387.5" stroke="#EEEEF2" stroke-width="0.8" opacity="0.7"/>
<path d="M635.6 389.3 H658.8 V419.1 Q658.8 421.3 656.3 421.3 H638.1 Q635.6 421.3 635.6 419.1 Z" fill="url(#lq26)"/>
<rect x="635.6" y="389.3" width="23.2" height="30.3" fill="url(#lsh)"/>
<ellipse cx="647.2" cy="388.8" rx="11.4" ry="2.2" fill="#FBFAF6"/>
<path d="M635.9 389.1 Q647.2 392.1 658.5 389.1" stroke="#8C6A3A" stroke-width="0.8" fill="none" opacity="0.8"/>
<path d="M636.4 354.2 H658 Q659.5 354.2 659.5 355.9 L658.9 365.6 H635.5 L634.9 355.9 Q634.9 354.2 636.4 354.2 Z" fill="url(#capb)"/>
</g>
</g>
<g>
<rect x="449.6" y="444.6" width="207" height="70.1" fill="#F4F4F6"/>
<rect x="449.6" y="444.6" width="207" height="35.9" fill="#E2E2E6"/>
<rect x="449.6" y="444.6" width="207" height="12.9" fill="#DCDCE0"/>
<rect x="449.6" y="444.6" width="207" height="1.3" fill="#CCCCD0"/>
<g transform="translate(0 444.6) skewX(6.618) translate(0 -444.6)">
<linearGradient id="lq27" x1="0" y1="0" x2="0" y2="1"><stop offset="0" stop-color="#E4BC50"/><stop offset="0.55" stop-color="#EEC454"/><stop offset="1" stop-color="#EFC75E"/></linearGradient>
<rect x="451.1" y="457" width="25.5" height="25" fill="url(#glassbf)"/>
<path d="M451.8 458.5 V479.5 M475.9 458.5 V479.5" stroke="#EEEEF2" stroke-width="0.8" opacity="0.7"/>
<path d="M451.2 481.3 H476.5 V511.6 Q476.5 513.8 474 513.8 H453.7 Q451.2 513.8 451.2 511.6 Z" fill="url(#lq27)"/>
<rect x="451.2" y="481.3" width="25.3" height="30.8" fill="url(#lsh)"/>
<ellipse cx="463.85" cy="481.4" rx="12.15" ry="1.8" fill="#F6F0E6"/>
<path d="M452 445.9 H475.7 Q477.2 445.9 477.2 447.6 L476.6 457.5 H451.1 L450.5 447.6 Q450.5 445.9 452 445.9 Z" fill="url(#capbf)"/>
</g>
<g transform="translate(0 444.6) skewX(4.645) translate(0 -444.6)">
<linearGradient id="lq28" x1="0" y1="0" x2="0" y2="1"><stop offset="0" stop-color="#E09328"/><stop offset="0.55" stop-color="#EA9A2A"/><stop offset="1" stop-color="#EBA036"/></linearGradient>
<rect x="478.8" y="457" width="23.6" height="25" fill="url(#glassbf)"/>
<path d="M479.5 458.5 V479.5 M501.7 458.5 V479.5" stroke="#EEEEF2" stroke-width="0.8" opacity="0.7"/>
<path d="M478.9 481.3 H502.3 V511.6 Q502.3 513.8 499.8 513.8 H481.4 Q478.9 513.8 478.9 511.6 Z" fill="url(#lq28)"/>
<rect x="478.9" y="481.3" width="23.4" height="30.8" fill="url(#lsh)"/>
<ellipse cx="490.6" cy="481.4" rx="11.2" ry="1.8" fill="#F6F0E6"/>
<path d="M479.7 445.9 H501.5 Q503 445.9 503 447.6 L502.4 457.5 H478.8 L478.2 447.6 Q478.2 445.9 479.7 445.9 Z" fill="url(#capbf)"/>
</g>
<g transform="translate(0 444.6) skewX(2.776) translate(0 -444.6)">
<linearGradient id="lq29" x1="0" y1="0" x2="0" y2="1"><stop offset="0" stop-color="#D8651A"/><stop offset="0.55" stop-color="#E26A1C"/><stop offset="1" stop-color="#E37229"/></linearGradient>
<rect x="504.2" y="457" width="23.2" height="25" fill="url(#glassbf)"/>
<path d="M504.9 458.5 V479.5 M526.7 458.5 V479.5" stroke="#EEEEF2" stroke-width="0.8" opacity="0.7"/>
<path d="M504.3 481.3 H527.3 V511.6 Q527.3 513.8 524.8 513.8 H506.8 Q504.3 513.8 504.3 511.6 Z" fill="url(#lq29)"/>
<rect x="504.3" y="481.3" width="23" height="30.8" fill="url(#lsh)"/>
<ellipse cx="515.8" cy="481.4" rx="11" ry="1.8" fill="#E8A428"/>
<path d="M505.1 445.9 H526.5 Q528 445.9 528 447.6 L527.4 457.5 H504.2 L503.6 447.6 Q503.6 445.9 505.1 445.9 Z" fill="url(#capbf)"/>
</g>
<g transform="translate(0 444.6) skewX(0.875) translate(0 -444.6)">
<linearGradient id="lq30" x1="0" y1="0" x2="0" y2="1"><stop offset="0" stop-color="#BA2815"/><stop offset="0.55" stop-color="#C22A16"/><stop offset="1" stop-color="#C53623"/></linearGradient>
<rect x="529.9" y="457" width="22.9" height="25" fill="url(#glassbf)"/>
<path d="M530.6 458.5 V479.5 M552.1 458.5 V479.5" stroke="#EEEEF2" stroke-width="0.8" opacity="0.7"/>
<path d="M530 481.3 H552.7 V511.6 Q552.7 513.8 550.2 513.8 H532.5 Q530 513.8 530 511.6 Z" fill="url(#lq30)"/>
<rect x="530" y="481.3" width="22.7" height="30.8" fill="url(#lsh)"/>
<ellipse cx="541.35" cy="481.4" rx="10.85" ry="1.8" fill="#E8A428"/>
<path d="M530.8 445.9 H551.9 Q553.4 445.9 553.4 447.6 L552.8 457.5 H529.9 L529.3 447.6 Q529.3 445.9 530.8 445.9 Z" fill="url(#capbf)"/>
</g>
<g transform="translate(0 444.6) skewX(-1.069) translate(0 -444.6)">
<linearGradient id="lq31" x1="0" y1="0" x2="0" y2="1"><stop offset="0" stop-color="#861A11"/><stop offset="0.55" stop-color="#8C1C12"/><stop offset="1" stop-color="#922920"/></linearGradient>
<rect x="556.5" y="457" width="21.9" height="25" fill="url(#glassbf)"/>
<path d="M557.2 458.5 V479.5 M577.7 458.5 V479.5" stroke="#EEEEF2" stroke-width="0.8" opacity="0.7"/>
<path d="M556.6 481.3 H578.3 V511.6 Q578.3 513.8 575.8 513.8 H559.1 Q556.6 513.8 556.6 511.6 Z" fill="url(#lq31)"/>
<rect x="556.6" y="481.3" width="21.7" height="30.8" fill="url(#lsh)"/>
<ellipse cx="567.45" cy="481.4" rx="10.35" ry="1.8" fill="#E8A428"/>
<path d="M557.4 445.9 H577.5 Q579 445.9 579 447.6 L578.4 457.5 H556.5 L555.9 447.6 Q555.9 445.9 557.4 445.9 Z" fill="url(#capbf)"/>
</g>
<g transform="translate(0 444.6) skewX(-2.910) translate(0 -444.6)">
<linearGradient id="lq32" x1="0" y1="0" x2="0" y2="1"><stop offset="0" stop-color="#581517"/><stop offset="0.55" stop-color="#5C1618"/><stop offset="1" stop-color="#652325"/></linearGradient>
<rect x="581.2" y="457" width="22" height="25" fill="url(#glassbf)"/>
<path d="M581.9 458.5 V479.5 M602.5 458.5 V479.5" stroke="#EEEEF2" stroke-width="0.8" opacity="0.7"/>
<path d="M581.3 481.3 H603.1 V511.6 Q603.1 513.8 600.6 513.8 H583.8 Q581.3 513.8 581.3 511.6 Z" fill="url(#lq32)"/>
<rect x="581.3" y="481.3" width="21.8" height="30.8" fill="url(#lsh)"/>
<ellipse cx="592.2" cy="481.4" rx="10.4" ry="1.8" fill="#E8A428"/>
<path d="M582.1 445.9 H602.3 Q603.8 445.9 603.8 447.6 L603.2 457.5 H581.2 L580.6 447.6 Q580.6 445.9 582.1 445.9 Z" fill="url(#capbf)"/>
</g>
<g transform="translate(0 444.6) skewX(-4.752) translate(0 -444.6)">
<linearGradient id="lq33" x1="0" y1="0" x2="0" y2="1"><stop offset="0" stop-color="#390F17"/><stop offset="0.55" stop-color="#3C1018"/><stop offset="1" stop-color="#471E25"/></linearGradient>
<rect x="605.9" y="457" width="22.3" height="25" fill="url(#glassbf)"/>
<path d="M606.6 458.5 V479.5 M627.5 458.5 V479.5" stroke="#EEEEF2" stroke-width="0.8" opacity="0.7"/>
<path d="M606 481.3 H628.1 V511.6 Q628.1 513.8 625.6 513.8 H608.5 Q606 513.8 606 511.6 Z" fill="url(#lq33)"/>
<rect x="606" y="481.3" width="22.1" height="30.8" fill="url(#lsh)"/>
<ellipse cx="617.05" cy="481.4" rx="10.55" ry="1.8" fill="#E8A428"/>
<path d="M606.8 445.9 H627.3 Q628.8 445.9 628.8 447.6 L628.2 457.5 H605.9 L605.3 447.6 Q605.3 445.9 606.8 445.9 Z" fill="url(#capbf)"/>
</g>
<g transform="translate(0 444.6) skewX(-6.614) translate(0 -444.6)">
<linearGradient id="lq34" x1="0" y1="0" x2="0" y2="1"><stop offset="0" stop-color="#2C0B15"/><stop offset="0.55" stop-color="#2E0C16"/><stop offset="1" stop-color="#3A1A23"/></linearGradient>
<rect x="630.6" y="457" width="23.4" height="25" fill="url(#glassbf)"/>
<path d="M631.3 458.5 V479.5 M653.3 458.5 V479.5" stroke="#EEEEF2" stroke-width="0.8" opacity="0.7"/>
<path d="M630.7 481.3 H653.9 V511.6 Q653.9 513.8 651.4 513.8 H633.2 Q630.7 513.8 630.7 511.6 Z" fill="url(#lq34)"/>
<rect x="630.7" y="481.3" width="23.2" height="30.8" fill="url(#lsh)"/>
<ellipse cx="642.3" cy="481.4" rx="11.1" ry="1.8" fill="#E8A428"/>
<path d="M631.5 445.9 H653.1 Q654.6 445.9 654.6 447.6 L654 457.5 H630.6 L630 447.6 Q630 445.9 631.5 445.9 Z" fill="url(#capbf)"/>
</g>
</g>
<g>
<rect x="454.1" y="690.2" width="210" height="66.2" fill="#EDEDF0"/>
<rect x="454.1" y="690.2" width="210" height="34.8" fill="#CFCBD1"/>
<rect x="454.1" y="690.2" width="210" height="13.4" fill="#BCBAC0"/>
<rect x="454.1" y="690.2" width="210" height="1.3" fill="#B8B6BC"/>
<g transform="translate(0 690.2) skewX(7.237) translate(0 -690.2)">
<linearGradient id="lq35" x1="0" y1="0" x2="0" y2="1"><stop offset="0" stop-color="#D8A839"/><stop offset="0.55" stop-color="#E2B03C"/><stop offset="1" stop-color="#E7BE5F"/></linearGradient>
<rect x="455.8" y="703.1" width="25.2" height="23.4" fill="url(#glassc)"/>
<path d="M456.5 704.6 V724 M480.3 704.6 V724" stroke="#EEEEF2" stroke-width="0.8" opacity="0.7"/>
<path d="M455.9 725.8 H480.9 V753.4 Q480.9 755.6 478.4 755.6 H458.4 Q455.9 755.6 455.9 753.4 Z" fill="url(#lq35)"/>
<rect x="455.9" y="725.8" width="25" height="28.1" fill="url(#lsh)"/>
<ellipse cx="468.4" cy="725.3" rx="12.3" ry="2.2" fill="#FBFAF6"/>
<path d="M456.2 725.6 Q468.4 728.6 480.6 725.6" stroke="#8C6A3A" stroke-width="0.8" fill="none" opacity="0.8"/>
<path d="M456.7 691.5 H480.1 Q481.6 691.5 481.6 693.2 L481 703.6 H455.8 L455.2 693.2 Q455.2 691.5 456.7 691.5 Z" fill="url(#capc)"/>
</g>
<g transform="translate(0 690.2) skewX(5.017) translate(0 -690.2)">
<linearGradient id="lq36" x1="0" y1="0" x2="0" y2="1"><stop offset="0" stop-color="#DEB647"/><stop offset="0.55" stop-color="#E8BE4A"/><stop offset="1" stop-color="#ECC96A"/></linearGradient>
<rect x="484.1" y="703.1" width="24.6" height="23.4" fill="url(#glassc)"/>
<path d="M484.8 704.6 V724 M508 704.6 V724" stroke="#EEEEF2" stroke-width="0.8" opacity="0.7"/>
<path d="M484.2 725.8 H508.6 V753.4 Q508.6 755.6 506.1 755.6 H486.7 Q484.2 755.6 484.2 753.4 Z" fill="url(#lq36)"/>
<rect x="484.2" y="725.8" width="24.4" height="28.1" fill="url(#lsh)"/>
<ellipse cx="496.4" cy="725.3" rx="12" ry="2.2" fill="#FBFAF6"/>
<path d="M484.5 725.6 Q496.4 728.6 508.3 725.6" stroke="#8C6A3A" stroke-width="0.8" fill="none" opacity="0.8"/>
<path d="M485 691.5 H507.8 Q509.3 691.5 509.3 693.2 L508.7 703.6 H484.1 L483.5 693.2 Q483.5 691.5 485 691.5 Z" fill="url(#capc)"/>
</g>
<g transform="translate(0 690.2) skewX(2.905) translate(0 -690.2)">
<linearGradient id="lq37" x1="0" y1="0" x2="0" y2="1"><stop offset="0" stop-color="#DEB645"/><stop offset="0.55" stop-color="#E8BE48"/><stop offset="1" stop-color="#ECC968"/></linearGradient>
<rect x="510.5" y="703.1" width="24.7" height="23.4" fill="url(#glassc)"/>
<path d="M511.2 704.6 V724 M534.5 704.6 V724" stroke="#EEEEF2" stroke-width="0.8" opacity="0.7"/>
<path d="M510.6 725.8 H535.1 V753.4 Q535.1 755.6 532.6 755.6 H513.1 Q510.6 755.6 510.6 753.4 Z" fill="url(#lq37)"/>
<rect x="510.6" y="725.8" width="24.5" height="28.1" fill="url(#lsh)"/>
<ellipse cx="522.85" cy="725.3" rx="12.05" ry="2.2" fill="#FBFAF6"/>
<path d="M510.9 725.6 Q522.85 728.6 534.8 725.6" stroke="#8C6A3A" stroke-width="0.8" fill="none" opacity="0.8"/>
<path d="M511.4 691.5 H534.3 Q535.8 691.5 535.8 693.2 L535.2 703.6 H510.5 L509.9 693.2 Q509.9 691.5 511.4 691.5 Z" fill="url(#capc)"/>
</g>
<g transform="translate(0 690.2) skewX(0.802) translate(0 -690.2)">
<linearGradient id="lq38" x1="0" y1="0" x2="0" y2="1"><stop offset="0" stop-color="#E0B848"/><stop offset="0.55" stop-color="#EAC04C"/><stop offset="1" stop-color="#EDCB6C"/></linearGradient>
<rect x="537.2" y="703.1" width="23.8" height="23.4" fill="url(#glassc)"/>
<path d="M537.9 704.6 V724 M560.3 704.6 V724" stroke="#EEEEF2" stroke-width="0.8" opacity="0.7"/>
<path d="M537.3 725.8 H560.9 V753.4 Q560.9 755.6 558.4 755.6 H539.8 Q537.3 755.6 537.3 753.4 Z" fill="url(#lq38)"/>
<rect x="537.3" y="725.8" width="23.6" height="28.1" fill="url(#lsh)"/>
<ellipse cx="549.1" cy="725.3" rx="11.6" ry="2.2" fill="#FBFAF6"/>
<path d="M537.6 725.6 Q549.1 728.6 560.6 725.6" stroke="#8C6A3A" stroke-width="0.8" fill="none" opacity="0.8"/>
<path d="M538.1 691.5 H560.1 Q561.6 691.5 561.6 693.2 L561 703.6 H537.2 L536.6 693.2 Q536.6 691.5 538.1 691.5 Z" fill="url(#capc)"/>
</g>
<g transform="translate(0 690.2) skewX(-1.235) translate(0 -690.2)">
<linearGradient id="lq39" x1="0" y1="0" x2="0" y2="1"><stop offset="0" stop-color="#E2BC50"/><stop offset="0.55" stop-color="#ECC454"/><stop offset="1" stop-color="#EFCE72"/></linearGradient>
<rect x="562.6" y="703.1" width="23.8" height="23.4" fill="url(#glassc)"/>
<path d="M563.3 704.6 V724 M585.7 704.6 V724" stroke="#EEEEF2" stroke-width="0.8" opacity="0.7"/>
<path d="M562.7 725.8 H586.3 V753.4 Q586.3 755.6 583.8 755.6 H565.2 Q562.7 755.6 562.7 753.4 Z" fill="url(#lq39)"/>
<rect x="562.7" y="725.8" width="23.6" height="28.1" fill="url(#lsh)"/>
<ellipse cx="574.5" cy="725.3" rx="11.6" ry="2.2" fill="#FBFAF6"/>
<path d="M563 725.6 Q574.5 728.6 586 725.6" stroke="#8C6A3A" stroke-width="0.8" fill="none" opacity="0.8"/>
<path d="M563.5 691.5 H585.5 Q587 691.5 587 693.2 L586.4 703.6 H562.6 L562 693.2 Q562 691.5 563.5 691.5 Z" fill="url(#capc)"/>
</g>
<g transform="translate(0 690.2) skewX(-3.309) translate(0 -690.2)">
<linearGradient id="lq40" x1="0" y1="0" x2="0" y2="1"><stop offset="0" stop-color="#E0B445"/><stop offset="0.55" stop-color="#EABC48"/><stop offset="1" stop-color="#EDC868"/></linearGradient>
<rect x="588.2" y="703.1" width="24.4" height="23.4" fill="url(#glassc)"/>
<path d="M588.9 704.6 V724 M611.9 704.6 V724" stroke="#EEEEF2" stroke-width="0.8" opacity="0.7"/>
<path d="M588.3 725.8 H612.5 V753.4 Q612.5 755.6 610 755.6 H590.8 Q588.3 755.6 588.3 753.4 Z" fill="url(#lq40)"/>
<rect x="588.3" y="725.8" width="24.2" height="28.1" fill="url(#lsh)"/>
<ellipse cx="600.4" cy="725.3" rx="11.9" ry="2.2" fill="#FBFAF6"/>
<path d="M588.6 725.6 Q600.4 728.6 612.2 725.6" stroke="#8C6A3A" stroke-width="0.8" fill="none" opacity="0.8"/>
<path d="M589.1 691.5 H611.7 Q613.2 691.5 613.2 693.2 L612.6 703.6 H588.2 L587.6 693.2 Q587.6 691.5 589.1 691.5 Z" fill="url(#capc)"/>
</g>
<g transform="translate(0 690.2) skewX(-5.375) translate(0 -690.2)">
<linearGradient id="lq41" x1="0" y1="0" x2="0" y2="1"><stop offset="0" stop-color="#E0B243"/><stop offset="0.55" stop-color="#EABA46"/><stop offset="1" stop-color="#EDC667"/></linearGradient>
<rect x="614.4" y="703.1" width="23.8" height="23.4" fill="url(#glassc)"/>
<path d="M615.1 704.6 V724 M637.5 704.6 V724" stroke="#EEEEF2" stroke-width="0.8" opacity="0.7"/>
<path d="M614.5 725.8 H638.1 V753.4 Q638.1 755.6 635.6 755.6 H617 Q614.5 755.6 614.5 753.4 Z" fill="url(#lq41)"/>
<rect x="614.5" y="725.8" width="23.6" height="28.1" fill="url(#lsh)"/>
<ellipse cx="626.3" cy="725.3" rx="11.6" ry="2.2" fill="#FBFAF6"/>
<path d="M614.8 725.6 Q626.3 728.6 637.8 725.6" stroke="#8C6A3A" stroke-width="0.8" fill="none" opacity="0.8"/>
<path d="M615.3 691.5 H637.3 Q638.8 691.5 638.8 693.2 L638.2 703.6 H614.4 L613.8 693.2 Q613.8 691.5 615.3 691.5 Z" fill="url(#capc)"/>
</g>
<g transform="translate(0 690.2) skewX(-7.395) translate(0 -690.2)">
<linearGradient id="lq42" x1="0" y1="0" x2="0" y2="1"><stop offset="0" stop-color="#DEB041"/><stop offset="0.55" stop-color="#E8B844"/><stop offset="1" stop-color="#ECC465"/></linearGradient>
<rect x="640.1" y="703.1" width="23.4" height="23.4" fill="url(#glassc)"/>
<path d="M640.8 704.6 V724 M662.8 704.6 V724" stroke="#EEEEF2" stroke-width="0.8" opacity="0.7"/>
<path d="M640.2 725.8 H663.4 V753.4 Q663.4 755.6 660.9 755.6 H642.7 Q640.2 755.6 640.2 753.4 Z" fill="url(#lq42)"/>
<rect x="640.2" y="725.8" width="23.2" height="28.1" fill="url(#lsh)"/>
<ellipse cx="651.8" cy="725.3" rx="11.4" ry="2.2" fill="#FBFAF6"/>
<path d="M640.5 725.6 Q651.8 728.6 663.1 725.6" stroke="#8C6A3A" stroke-width="0.8" fill="none" opacity="0.8"/>
<path d="M641 691.5 H662.6 Q664.1 691.5 664.1 693.2 L663.5 703.6 H640.1 L639.5 693.2 Q639.5 691.5 641 691.5 Z" fill="url(#capc)"/>
</g>
</g>
<g>
<rect x="460.6" y="776.4" width="199.7" height="65.9" fill="#F4F4F6"/>
<rect x="460.6" y="776.4" width="199.7" height="34.2" fill="#E0DCE0"/>
<rect x="460.6" y="776.4" width="199.7" height="12.6" fill="#DCDCE0"/>
<rect x="460.6" y="776.4" width="199.7" height="1.3" fill="#D0CCD0"/>
<g transform="translate(0 776.4) skewX(7.219) translate(0 -776.4)">
<linearGradient id="lq43" x1="0" y1="0" x2="0" y2="1"><stop offset="0" stop-color="#601811"/><stop offset="0.55" stop-color="#641A12"/><stop offset="1" stop-color="#6D2720"/></linearGradient>
<rect x="463.6" y="788.5" width="24.8" height="23.6" fill="url(#glasscf)"/>
<path d="M464.3 790 V809.6 M487.7 790 V809.6" stroke="#EEEEF2" stroke-width="0.8" opacity="0.7"/>
<path d="M463.7 811.4 H488.3 V839.2 Q488.3 841.4 485.8 841.4 H466.2 Q463.7 841.4 463.7 839.2 Z" fill="url(#lq43)"/>
<rect x="463.7" y="811.4" width="24.6" height="28.3" fill="url(#lsh)"/>
<ellipse cx="476" cy="811.5" rx="11.8" ry="1.3" fill="#E6B480"/>
<path d="M464.5 777.7 H487.5 Q489 777.7 489 779.4 L488.4 789 H463.6 L463 779.4 Q463 777.7 464.5 777.7 Z" fill="url(#capcf)"/>
</g>
<g transform="translate(0 776.4) skewX(5.023) translate(0 -776.4)">
<linearGradient id="lq44" x1="0" y1="0" x2="0" y2="1"><stop offset="0" stop-color="#5A1513"/><stop offset="0.55" stop-color="#5E1614"/><stop offset="1" stop-color="#672322"/></linearGradient>
<rect x="490" y="788.5" width="23.7" height="23.6" fill="url(#glasscf)"/>
<path d="M490.7 790 V809.6 M513 790 V809.6" stroke="#EEEEF2" stroke-width="0.8" opacity="0.7"/>
<path d="M490.1 811.4 H513.6 V839.2 Q513.6 841.4 511.1 841.4 H492.6 Q490.1 841.4 490.1 839.2 Z" fill="url(#lq44)"/>
<rect x="490.1" y="811.4" width="23.5" height="28.3" fill="url(#lsh)"/>
<ellipse cx="501.85" cy="811.5" rx="11.25" ry="1.3" fill="#DE9A48"/>
<path d="M490.9 777.7 H512.8 Q514.3 777.7 514.3 779.4 L513.7 789 H490 L489.4 779.4 Q489.4 777.7 490.9 777.7 Z" fill="url(#capcf)"/>
</g>
<g transform="translate(0 776.4) skewX(2.907) translate(0 -776.4)">
<linearGradient id="lq45" x1="0" y1="0" x2="0" y2="1"><stop offset="0" stop-color="#5A1315"/><stop offset="0.55" stop-color="#5E1416"/><stop offset="1" stop-color="#672223"/></linearGradient>
<rect x="515.2" y="788.5" width="22.8" height="23.6" fill="url(#glasscf)"/>
<path d="M515.9 790 V809.6 M537.3 790 V809.6" stroke="#EEEEF2" stroke-width="0.8" opacity="0.7"/>
<path d="M515.3 811.4 H537.9 V839.2 Q537.9 841.4 535.4 841.4 H517.8 Q515.3 841.4 515.3 839.2 Z" fill="url(#lq45)"/>
<rect x="515.3" y="811.4" width="22.6" height="28.3" fill="url(#lsh)"/>
<ellipse cx="526.6" cy="811.5" rx="10.8" ry="1.3" fill="#DE9A48"/>
<path d="M516.1 777.7 H537.1 Q538.6 777.7 538.6 779.4 L538 789 H515.2 L514.6 779.4 Q514.6 777.7 516.1 777.7 Z" fill="url(#capcf)"/>
</g>
<g transform="translate(0 776.4) skewX(0.889) translate(0 -776.4)">
<linearGradient id="lq46" x1="0" y1="0" x2="0" y2="1"><stop offset="0" stop-color="#5C1515"/><stop offset="0.55" stop-color="#601616"/><stop offset="1" stop-color="#692323"/></linearGradient>
<rect x="539.6" y="788.5" width="21" height="23.6" fill="url(#glasscf)"/>
<path d="M540.3 790 V809.6 M559.9 790 V809.6" stroke="#EEEEF2" stroke-width="0.8" opacity="0.7"/>
<path d="M539.7 811.4 H560.5 V839.2 Q560.5 841.4 558 841.4 H542.2 Q539.7 841.4 539.7 839.2 Z" fill="url(#lq46)"/>
<rect x="539.7" y="811.4" width="20.8" height="28.3" fill="url(#lsh)"/>
<ellipse cx="550.1" cy="811.5" rx="9.9" ry="1.3" fill="#DE9A48"/>
<path d="M540.5 777.7 H559.7 Q561.2 777.7 561.2 779.4 L560.6 789 H539.6 L539 779.4 Q539 777.7 540.5 777.7 Z" fill="url(#capcf)"/>
</g>
<g transform="translate(0 776.4) skewX(-1.104) translate(0 -776.4)">
<linearGradient id="lq47" x1="0" y1="0" x2="0" y2="1"><stop offset="0" stop-color="#5A1515"/><stop offset="0.55" stop-color="#5E1616"/><stop offset="1" stop-color="#672323"/></linearGradient>
<rect x="561.8" y="788.5" width="23" height="23.6" fill="url(#glasscf)"/>
<path d="M562.5 790 V809.6 M584.1 790 V809.6" stroke="#EEEEF2" stroke-width="0.8" opacity="0.7"/>
<path d="M561.9 811.4 H584.7 V839.2 Q584.7 841.4 582.2 841.4 H564.4 Q561.9 841.4 561.9 839.2 Z" fill="url(#lq47)"/>
<rect x="561.9" y="811.4" width="22.8" height="28.3" fill="url(#lsh)"/>
<ellipse cx="573.3" cy="811.5" rx="10.9" ry="1.3" fill="#DE9A48"/>
<path d="M562.7 777.7 H583.9 Q585.4 777.7 585.4 779.4 L584.8 789 H561.8 L561.2 779.4 Q561.2 777.7 562.7 777.7 Z" fill="url(#capcf)"/>
</g>
<g transform="translate(0 776.4) skewX(-3.215) translate(0 -776.4)">
<linearGradient id="lq48" x1="0" y1="0" x2="0" y2="1"><stop offset="0" stop-color="#5A1515"/><stop offset="0.55" stop-color="#5E1616"/><stop offset="1" stop-color="#672323"/></linearGradient>
<rect x="586.4" y="788.5" width="23" height="23.6" fill="url(#glasscf)"/>
<path d="M587.1 790 V809.6 M608.7 790 V809.6" stroke="#EEEEF2" stroke-width="0.8" opacity="0.7"/>
<path d="M586.5 811.4 H609.3 V839.2 Q609.3 841.4 606.8 841.4 H589 Q586.5 841.4 586.5 839.2 Z" fill="url(#lq48)"/>
<rect x="586.5" y="811.4" width="22.8" height="28.3" fill="url(#lsh)"/>
<ellipse cx="597.9" cy="811.5" rx="10.9" ry="1.3" fill="#DE9A48"/>
<path d="M587.3 777.7 H608.5 Q610 777.7 610 779.4 L609.4 789 H586.4 L585.8 779.4 Q585.8 777.7 587.3 777.7 Z" fill="url(#capcf)"/>
</g>
<g transform="translate(0 776.4) skewX(-5.279) translate(0 -776.4)">
<linearGradient id="lq49" x1="0" y1="0" x2="0" y2="1"><stop offset="0" stop-color="#581315"/><stop offset="0.55" stop-color="#5C1416"/><stop offset="1" stop-color="#652223"/></linearGradient>
<rect x="610.9" y="788.5" width="22.3" height="23.6" fill="url(#glasscf)"/>
<path d="M611.6 790 V809.6 M632.5 790 V809.6" stroke="#EEEEF2" stroke-width="0.8" opacity="0.7"/>
<path d="M611 811.4 H633.1 V839.2 Q633.1 841.4 630.6 841.4 H613.5 Q611 841.4 611 839.2 Z" fill="url(#lq49)"/>
<rect x="611" y="811.4" width="22.1" height="28.3" fill="url(#lsh)"/>
<ellipse cx="622.05" cy="811.5" rx="10.55" ry="1.3" fill="#DE9A48"/>
<path d="M611.8 777.7 H632.3 Q633.8 777.7 633.8 779.4 L633.2 789 H610.9 L610.3 779.4 Q610.3 777.7 611.8 777.7 Z" fill="url(#capcf)"/>
</g>
<g transform="translate(0 776.4) skewX(-7.380) translate(0 -776.4)">
<linearGradient id="lq50" x1="0" y1="0" x2="0" y2="1"><stop offset="0" stop-color="#561315"/><stop offset="0.55" stop-color="#5A1416"/><stop offset="1" stop-color="#632223"/></linearGradient>
<rect x="634.8" y="788.5" width="24" height="23.6" fill="url(#glasscf)"/>
<path d="M635.5 790 V809.6 M658.1 790 V809.6" stroke="#EEEEF2" stroke-width="0.8" opacity="0.7"/>
<path d="M634.9 811.4 H658.7 V839.2 Q658.7 841.4 656.2 841.4 H637.4 Q634.9 841.4 634.9 839.2 Z" fill="url(#lq50)"/>
<rect x="634.9" y="811.4" width="23.8" height="28.3" fill="url(#lsh)"/>
<ellipse cx="646.8" cy="811.5" rx="11.4" ry="1.3" fill="#DE9A48"/>
<path d="M635.7 777.7 H657.9 Q659.4 777.7 659.4 779.4 L658.8 789 H634.8 L634.2 779.4 Q634.2 777.7 635.7 777.7 Z" fill="url(#capcf)"/>
</g>
</g>
<text transform="translate(431.98 138.93)" font-family="Liberation Sans, sans-serif" font-weight="bold" font-size="17.39" fill="#000">5</text>
<text transform="translate(460.9 138.93)" font-family="Liberation Sans, sans-serif" font-weight="bold" font-size="17.39" fill="#000">6</text>
<text transform="translate(489.43 139.2)" font-family="Liberation Sans, sans-serif" font-weight="bold" font-size="17.39" fill="#000">7</text>
<text transform="translate(514.7 138.93)" font-family="Liberation Sans, sans-serif" font-weight="bold" font-size="17.39" fill="#000">8</text>
<text transform="translate(537.3 138.93)" font-family="Liberation Sans, sans-serif" font-weight="bold" font-size="17.39" fill="#000">9</text>
<text transform="translate(557.51 138.93)" font-family="Liberation Sans, sans-serif" font-weight="bold" font-size="17.39" fill="#000">10</text>
<text transform="translate(585.25 139.2)" font-family="Liberation Sans, sans-serif" font-weight="bold" font-size="17.39" fill="#000">11</text>
<text transform="translate(613.27 139.2)" font-family="Liberation Sans, sans-serif" font-weight="bold" font-size="17.39" fill="#000">12</text>
<text transform="translate(638.17 138.93)" font-family="Liberation Sans, sans-serif" font-weight="bold" font-size="17.39" fill="#000">13</text>
<text transform="translate(450.5 441.89)" font-family="Liberation Sans, sans-serif" font-weight="bold" font-size="16.77" fill="#000">0</text>
<text transform="translate(479.9 441.89)" font-family="Liberation Sans, sans-serif" font-weight="bold" font-size="16.77" fill="#000">5</text>
<text transform="translate(498.67 441.89)" font-family="Liberation Sans, sans-serif" font-weight="bold" font-size="16.77" fill="#000">10</text>
<text transform="translate(527.28 441.89)" font-family="Liberation Sans, sans-serif" font-weight="bold" font-size="16.77" fill="#000">20</text>
<text transform="translate(557.41 441.89)" font-family="Liberation Sans, sans-serif" font-weight="bold" font-size="16.77" fill="#000">30</text>
<text transform="translate(581.16 441.89)" font-family="Liberation Sans, sans-serif" font-weight="bold" font-size="16.77" fill="#000">45</text>
<text transform="translate(609.83 441.89)" font-family="Liberation Sans, sans-serif" font-weight="bold" font-size="16.77" fill="#000">60</text>
<text transform="translate(638.8 441.89)" font-family="Liberation Sans, sans-serif" font-weight="bold" font-size="16.77" fill="#000">75</text>
<text transform="translate(463.69 772.55)" font-family="Liberation Sans, sans-serif" font-weight="bold" font-size="15.72" fill="#000">5</text>
<text transform="translate(487.94 772.55)" font-family="Liberation Sans, sans-serif" font-weight="bold" font-size="15.72" fill="#000">15</text>
<text transform="translate(516.53 772.55)" font-family="Liberation Sans, sans-serif" font-weight="bold" font-size="15.72" fill="#000">25</text>
<text transform="translate(546.18 772.55)" font-family="Liberation Sans, sans-serif" font-weight="bold" font-size="15.72" fill="#000">37</text>
<text transform="translate(570.68 772.55)" font-family="Liberation Sans, sans-serif" font-weight="bold" font-size="15.72" fill="#000">50</text>
<text transform="translate(593.81 772.55)" font-family="Liberation Sans, sans-serif" font-weight="bold" font-size="15.72" fill="#000">60</text>
<text transform="translate(618.26 772.55)" font-family="Liberation Sans, sans-serif" font-weight="bold" font-size="15.72" fill="#000">70</text>
<text transform="translate(642.61 772.55)" font-family="Liberation Sans, sans-serif" font-weight="bold" font-size="15.72" fill="#000">80</text>
<text transform="translate(532.78 40.94) scale(1.102 1)" font-family="Liberation Sans, sans-serif" font-weight="bold" font-size="16.27" fill="#000">pH</text>
<text transform="translate(508.6 339.47) scale(1.064 1)" font-family="Liberation Sans, sans-serif" font-weight="bold" font-size="16.16" fill="#000">Time (min)</text>
<text transform="translate(500.5 674.51) scale(1.074 1)" font-family="Liberation Sans, sans-serif" font-weight="bold" font-size="15.95" fill="#000">Temperature (°C)</text>
<text transform="translate(684.25 112.64) rotate(-90) scale(1.079 1)" font-family="Liberation Sans, sans-serif" font-size="15.87" fill="#000">Initial</text>
<text transform="translate(684.25 192.36) rotate(-90) scale(1.096 1)" font-family="Liberation Sans, sans-serif" font-size="15.87" fill="#000">Final</text>
<text transform="translate(680.55 410.25) rotate(-90) scale(1.100 1)" font-family="Liberation Sans, sans-serif" font-size="15.73" fill="#000">Initial</text>
<text transform="translate(680.55 497.37) rotate(-90) scale(1.115 1)" font-family="Liberation Sans, sans-serif" font-size="15.73" fill="#000">Final</text>
<text transform="translate(684.25 751.17) rotate(-90) scale(1.102 1)" font-family="Liberation Sans, sans-serif" font-size="15.87" fill="#000">Initial</text>
<text transform="translate(684.25 829.58) rotate(-90) scale(1.196 1)" font-family="Liberation Sans, sans-serif" font-size="15.87" fill="#000">Final</text>
</svg></body></html>
